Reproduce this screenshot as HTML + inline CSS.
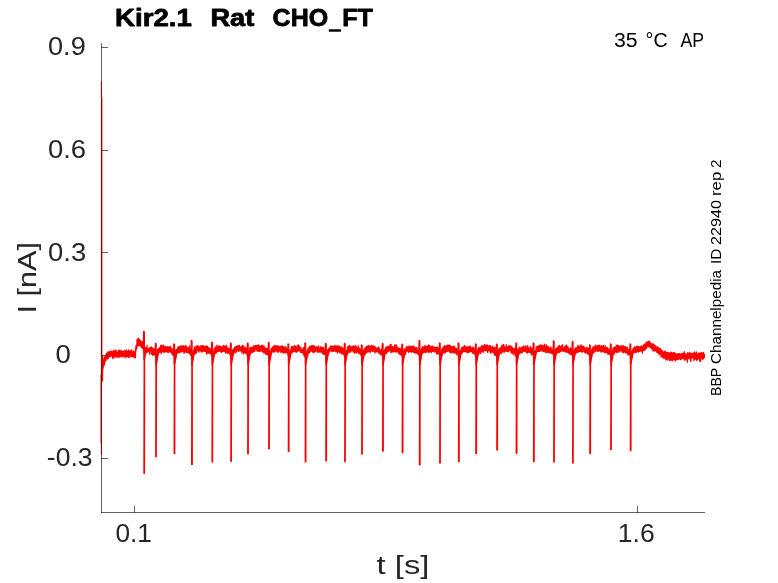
<!DOCTYPE html>
<html><head><meta charset="utf-8"><style>
html,body{margin:0;padding:0;background:#fff;overflow:hidden}
svg{display:block;will-change:transform}
text{font-family:"Liberation Sans",sans-serif}
</style></head><body>
<svg width="778" height="583" viewBox="0 0 778 583">
<rect width="778" height="583" fill="#fff"/>
<g fill="none" stroke="#ff0000" stroke-linejoin="round">
<path d="M101.45,81.6L101.45,454.6" stroke-width="1.2"/>
<path d="M102.5,97.5L102.5,355" stroke-width="1" stroke-opacity="0.35"/><path d="M102.5,355L102.5,381.5" stroke-width="1.3"/><path d="M100.5,374.4L100.5,443.4" stroke-width="1" stroke-opacity="0.45"/>
<path d="M102.6,370.0 102.7,363.7 102.8,368.1 102.9,364.0 103.0,364.3 103.1,368.1 103.2,366.2 103.3,364.7 103.4,360.6 103.5,363.9 103.6,360.2 103.7,364.5 103.8,358.2 103.9,359.3 104.0,363.9 104.1,358.3 104.2,365.1 104.3,356.8 104.4,357.8 104.5,364.6 104.6,360.0 104.7,358.1 104.8,356.8 104.9,360.6 105.0,359.5 105.1,361.4 105.2,356.7 105.3,358.6 105.4,357.7 105.5,357.9 105.6,360.9 105.7,355.9 105.8,356.5 105.9,360.3 106.0,359.0 106.1,357.4 106.2,356.5 106.3,353.4 106.4,357.2 106.5,356.5 106.6,356.5 106.7,356.6 106.8,355.8 106.9,358.1 107.0,353.1 107.1,358.8 107.2,357.5 107.3,355.1 107.4,357.3 107.5,356.4 107.6,357.1 107.7,357.3 107.8,353.5 107.9,352.8 108.0,352.0 108.1,355.5 108.2,358.6 108.3,355.3 108.4,354.3 108.5,357.4 108.6,356.7 108.7,357.9 108.8,351.6 108.9,353.0 109.0,356.0 109.1,352.0 109.2,355.6 109.3,354.4 109.4,352.3 109.5,356.0 109.6,352.6 109.7,355.2 109.8,356.4 109.9,356.2 110.0,354.5 110.1,355.2 110.2,355.7 110.3,356.7 110.4,351.4 110.5,355.3 110.6,351.5 110.7,351.6 110.8,356.1 110.9,352.8 111.0,352.0 111.1,351.4 111.2,353.6 111.3,351.6 111.4,351.8 111.5,353.2 111.6,351.1 111.7,352.2 111.8,355.2 111.9,353.2 112.0,354.3 112.1,352.4 112.2,356.7 112.3,355.8 112.4,358.0 112.5,356.0 112.6,351.9 112.7,355.9 112.8,353.1 112.9,354.5 113.0,355.5 113.1,356.6 113.2,354.5 113.3,356.1 113.4,350.6 113.5,352.1 113.6,353.7 113.7,358.2 113.8,350.4 113.9,352.0 114.0,354.6 114.1,357.0 114.2,353.0 114.3,355.2 114.4,355.8 114.5,355.0 114.6,352.4 114.7,354.2 114.8,356.9 114.9,351.9 115.0,352.9 115.1,352.7 115.2,351.5 115.3,350.7 115.4,356.3 115.5,354.7 115.6,356.0 115.7,351.7 115.8,355.6 115.9,356.6 116.0,349.9 116.1,356.1 116.2,355.3 116.3,354.0 116.4,357.1 116.5,351.7 116.6,353.0 116.7,356.3 116.8,355.0 116.9,352.1 117.0,356.3 117.1,354.3 117.2,353.7 117.3,357.0 117.4,354.9 117.5,355.4 117.6,356.2 117.7,353.7 117.8,355.4 117.9,355.5 118.0,355.9 118.1,354.8 118.2,350.8 118.3,353.5 118.4,355.2 118.5,352.2 118.6,352.6 118.7,354.3 118.8,356.2 118.9,357.7 119.0,350.2 119.1,353.8 119.2,353.3 119.3,353.4 119.4,351.7 119.5,350.1 119.6,353.1 119.7,351.9 119.8,354.6 119.9,353.9 120.0,356.7 120.1,351.8 120.2,354.7 120.3,351.7 120.4,353.0 120.5,354.8 120.6,352.9 120.7,353.5 120.8,354.7 120.9,351.4 121.0,350.2 121.1,353.8 121.2,351.9 121.3,354.9 121.4,356.2 121.5,356.8 121.6,353.7 121.7,352.8 121.8,352.1 121.9,356.3 122.0,354.1 122.1,354.5 122.2,352.8 122.3,354.8 122.4,356.3 122.5,351.2 122.6,353.5 122.7,352.8 122.8,356.7 122.9,354.5 123.0,355.2 123.1,353.0 123.2,355.2 123.3,351.3 123.4,355.5 123.5,352.7 123.6,352.7 123.7,356.2 123.8,355.9 123.9,354.7 124.0,351.5 124.1,351.4 124.2,352.6 124.3,353.0 124.4,352.0 124.5,350.6 124.6,356.1 124.7,354.5 124.8,351.7 124.9,355.6 125.0,357.9 125.1,355.4 125.2,351.4 125.3,352.6 125.4,352.2 125.5,352.2 125.6,356.2 125.7,353.7 125.8,354.2 125.9,350.7 126.0,353.7 126.1,352.1 126.2,353.1 126.3,354.8 126.4,352.8 126.5,349.9 126.6,357.0 126.7,350.7 126.8,351.0 126.9,352.4 127.0,352.6 127.1,354.3 127.2,352.4 127.3,356.7 127.4,354.9 127.5,351.2 127.6,352.1 127.7,354.1 127.8,352.1 127.9,352.2 128.0,353.3 128.1,354.5 128.2,352.0 128.3,356.6 128.4,353.9 128.5,355.4 128.6,349.9 128.7,357.3 128.8,353.5 128.9,353.2 129.0,353.6 129.1,355.5 129.2,357.7 129.3,353.1 129.4,353.5 129.5,353.1 129.6,353.4 129.7,352.0 129.8,354.6 129.9,351.0 130.0,352.8 130.1,352.8 130.2,351.1 130.3,352.6 130.4,352.6 130.5,354.8 130.6,350.9 130.7,356.5 130.8,351.2 130.9,353.4 131.0,350.7 131.1,355.7 131.2,349.9 131.3,350.2 131.4,351.2 131.5,354.2 131.6,352.6 131.7,356.4 131.8,352.3 131.9,350.8 132.0,351.5 132.1,353.5 132.2,356.1 132.3,354.0 132.4,355.1 132.5,354.6 132.6,355.6 132.7,354.4 132.8,352.8 132.9,357.1 133.0,356.2 133.1,354.1 133.2,352.9 133.3,356.6 133.4,353.2 133.5,351.0 133.6,355.0 133.7,354.8 133.8,356.7 133.9,355.7 134.0,353.0 134.1,354.9 134.2,356.7 134.3,353.0 134.4,352.0 134.5,353.2 134.6,355.8 134.7,357.8 134.8,355.6 134.9,354.0 135.0,354.0 135.1,356.6 135.2,353.6 135.3,353.1 135.4,357.7 135.5,355.4 135.6,348.5 135.7,352.2 135.8,351.9 135.9,348.0 136.0,346.8 136.1,345.5 136.2,348.2 136.3,349.3 136.4,347.2 136.5,347.6 136.6,345.2 136.7,344.9 136.8,348.5 136.9,347.1 137.0,339.7 137.1,342.5 137.2,345.0 137.3,339.1 137.4,343.1 137.5,341.3 137.6,344.8 137.7,344.0 137.8,341.1 137.9,341.9 138.0,345.8 138.1,340.1 138.2,342.9 138.3,345.1 138.4,342.2 138.5,338.1 138.6,342.1 138.7,345.4 138.8,342.4 138.9,343.2 139.0,342.8 139.1,340.2 139.2,339.2 139.3,339.6 139.4,343.0 139.5,340.5 139.6,342.2 139.7,344.1 139.8,344.2 139.9,344.9 140.0,340.4 140.1,345.9 140.2,342.5 140.3,343.2 140.4,340.8 140.5,345.6 140.6,343.3 140.7,343.7 140.8,341.3 140.9,346.0 141.0,345.5 141.1,341.6 141.2,347.3 141.3,342.4 141.4,347.4 141.5,342.5 141.6,341.6 141.7,344.3 141.8,346.6 141.9,344.6 142.0,344.8 142.1,344.5 142.2,346.9 142.3,341.7 142.4,348.0 142.5,344.5 142.6,348.8 142.7,347.6 142.8,347.4 142.9,346.6 143.0,344.5 143.1,347.5 143.2,344.5 143.3,345.6 143.4,344.3 143.5,348.3 143.6,347.5 143.7,348.5 143.8,346.0 143.9,346.2 144.0,350.3 144.1,349.0 144.2,352.7 144.3,350.6 144.4,351.8 144.5,349.9 144.6,351.7 144.7,350.5 144.8,350.0 144.9,349.0 145.0,353.7 145.1,351.1 145.2,351.1 145.3,353.1 145.4,351.4 145.5,351.9 145.6,348.7 145.7,349.3 145.8,351.7 145.9,352.2 146.0,351.8 146.1,347.7 146.2,351.0 146.3,351.6 146.4,352.4 146.5,348.4 146.6,347.9 146.7,351.5 146.8,350.0 146.9,350.3 147.0,345.4 147.1,350.5 147.2,351.4 147.3,350.9 147.4,348.5 147.5,348.8 147.6,352.4 147.7,352.1 147.8,350.0 147.9,351.7 148.0,351.1 148.1,351.3 148.2,351.2 148.3,350.4 148.4,349.3 148.5,349.0 148.6,351.3 148.7,348.6 148.8,348.7 148.9,348.3 149.0,351.3 149.1,349.4 149.2,350.8 149.3,349.6 149.4,349.6 149.5,352.1 149.6,351.6 149.7,354.3 149.8,347.7 149.9,347.8 150.0,350.2 150.1,349.4 150.2,349.0 150.3,349.2 150.4,349.4 150.5,350.6 150.6,349.0 150.7,349.4 150.8,349.0 150.9,348.2 151.0,347.4 151.1,350.2 151.2,349.4 151.3,350.1 151.4,354.1 151.5,349.5 151.6,346.9 151.7,351.5 151.8,349.8 151.9,349.9 152.0,348.4 152.1,352.2 152.2,349.5 152.3,349.6 152.4,351.7 152.5,353.3 152.6,350.3 152.7,355.2 152.8,348.1 152.9,353.0 153.0,350.1 153.1,348.4 153.2,353.6 153.3,354.8 153.4,352.3 153.5,349.9 153.6,351.8 153.7,354.1 153.8,353.3 153.9,350.9 154.0,355.0 154.1,349.2 154.2,351.9 154.3,353.1 154.4,352.1 154.5,351.6 154.6,350.2 154.7,353.6 154.8,354.6 154.9,349.6 155.0,354.6 155.1,351.2 155.2,351.4 155.3,355.4 155.4,351.8 155.5,353.2 155.6,354.3 155.7,353.7 155.8,352.7 155.9,353.7 156.0,359.4 156.1,358.3 156.2,358.3 156.3,353.7 156.4,353.1 156.5,352.5 156.6,356.9 156.7,357.4 156.8,354.2 156.9,355.3 157.0,354.4 157.1,354.5 157.2,350.3 157.3,351.3 157.4,352.7 157.5,352.3 157.6,349.3 157.7,350.2 157.8,353.3 157.9,353.7 158.0,353.0 158.1,352.3 158.2,352.8 158.3,352.7 158.4,350.1 158.5,349.7 158.6,349.2 158.7,351.7 158.8,348.4 158.9,352.8 159.0,352.6 159.1,352.2 159.2,352.8 159.3,349.4 159.4,347.9 159.5,349.1 159.6,348.0 159.7,347.7 159.8,351.4 159.9,348.8 160.0,349.1 160.1,348.2 160.2,349.2 160.3,351.2 160.4,347.4 160.5,352.0 160.6,348.4 160.7,345.4 160.8,347.9 160.9,349.9 161.0,349.2 161.1,351.7 161.2,353.5 161.3,351.5 161.4,348.0 161.5,348.4 161.6,352.5 161.7,345.4 161.8,346.9 161.9,345.7 162.0,347.1 162.1,347.9 162.2,350.9 162.3,347.2 162.4,351.5 162.5,349.0 162.6,348.4 162.7,348.8 162.8,349.3 162.9,350.7 163.0,349.4 163.1,347.5 163.2,347.9 163.3,345.0 163.4,348.0 163.5,350.1 163.6,351.9 163.7,352.0 163.8,349.9 163.9,350.2 164.0,352.7 164.1,351.7 164.2,351.2 164.3,350.5 164.4,349.9 164.5,347.0 164.6,348.2 164.7,346.6 164.8,346.3 164.9,349.4 165.0,351.2 165.1,348.8 165.2,347.7 165.3,347.7 165.4,350.8 165.5,346.3 165.6,351.2 165.7,349.0 165.8,351.9 165.9,352.0 166.0,348.8 166.1,349.3 166.2,346.9 166.3,348.5 166.4,348.6 166.5,351.4 166.6,350.7 166.7,351.1 166.8,351.6 166.9,350.3 167.0,349.5 167.1,350.9 167.2,351.3 167.3,350.8 167.4,346.6 167.5,347.3 167.6,348.4 167.7,352.3 167.8,351.3 167.9,348.5 168.0,350.0 168.1,347.7 168.2,348.4 168.3,352.4 168.4,350.4 168.5,349.5 168.6,346.8 168.7,349.1 168.8,349.7 168.9,349.4 169.0,347.3 169.1,352.0 169.2,348.4 169.3,349.2 169.4,351.2 169.5,348.6 169.6,350.0 169.7,347.8 169.8,348.9 169.9,347.9 170.0,346.6 170.1,350.0 170.2,348.6 170.3,347.6 170.4,346.4 170.5,351.4 170.6,349.1 170.7,352.1 170.8,351.9 170.9,352.5 171.0,350.7 171.1,348.6 171.2,351.2 171.3,349.6 171.4,350.8 171.5,353.0 171.6,352.9 171.7,350.9 171.8,348.1 171.9,353.0 172.0,352.3 172.1,350.9 172.2,350.1 172.3,351.0 172.4,354.9 172.5,352.4 172.6,353.7 172.7,351.3 172.8,350.4 172.9,353.1 173.0,350.3 173.1,354.3 173.2,353.4 173.3,351.7 173.4,353.0 173.5,351.1 173.6,353.0 173.7,354.8 173.8,355.6 173.9,354.0 174.0,349.8 174.1,354.5 174.2,350.5 174.3,354.2 174.4,354.6 174.5,359.5 174.6,356.2 174.7,354.6 174.8,356.2 174.9,356.0 175.0,357.7 175.1,354.3 175.2,355.1 175.3,352.6 175.4,350.2 175.5,350.3 175.6,357.2 175.7,354.1 175.8,352.3 175.9,350.9 176.0,355.4 176.1,352.3 176.2,350.0 176.3,349.3 176.4,349.8 176.5,350.4 176.6,351.6 176.7,351.5 176.8,352.3 176.9,353.5 177.0,351.1 177.1,351.2 177.2,352.8 177.3,349.2 177.4,351.0 177.5,350.5 177.6,350.8 177.7,347.6 177.8,348.7 177.9,348.8 178.0,351.1 178.1,347.7 178.2,348.9 178.3,349.7 178.4,352.8 178.5,347.8 178.6,349.2 178.7,346.7 178.8,349.2 178.9,347.5 179.0,349.5 179.1,347.6 179.2,347.1 179.3,349.8 179.4,350.3 179.5,352.5 179.6,350.8 179.7,349.7 179.8,346.6 179.9,348.8 180.0,350.5 180.1,349.4 180.2,346.4 180.3,347.1 180.4,349.0 180.5,351.8 180.6,346.5 180.7,349.9 180.8,348.8 180.9,346.5 181.0,351.2 181.1,351.5 181.2,352.2 181.3,350.2 181.4,348.1 181.5,347.7 181.6,345.9 181.7,350.7 181.8,350.2 181.9,346.7 182.0,350.8 182.1,348.1 182.2,351.1 182.3,346.6 182.4,349.2 182.5,348.4 182.6,347.6 182.7,346.2 182.8,348.4 182.9,349.0 183.0,351.0 183.1,350.1 183.2,345.7 183.3,350.1 183.4,350.7 183.5,351.2 183.6,351.6 183.7,348.3 183.8,351.1 183.9,353.2 184.0,346.4 184.1,348.4 184.2,347.7 184.3,350.3 184.4,350.2 184.5,352.9 184.6,349.4 184.7,348.2 184.8,346.4 184.9,349.4 185.0,348.6 185.1,347.1 185.2,347.3 185.3,350.5 185.4,350.1 185.5,348.6 185.6,350.5 185.7,351.5 185.8,345.1 185.9,352.0 186.0,346.7 186.1,350.6 186.2,348.2 186.3,349.8 186.4,348.4 186.5,347.6 186.6,350.1 186.7,352.4 186.8,346.8 186.9,350.5 187.0,347.6 187.1,350.3 187.2,348.4 187.3,352.5 187.4,349.7 187.5,348.5 187.6,349.9 187.7,348.3 187.8,351.4 187.9,349.2 188.0,351.2 188.1,350.1 188.2,347.8 188.3,350.4 188.4,352.4 188.5,347.8 188.6,350.8 188.7,347.7 188.8,350.1 188.9,353.2 189.0,349.0 189.1,353.4 189.2,350.6 189.3,351.8 189.4,346.0 189.5,350.7 189.6,349.6 189.7,350.0 189.8,350.8 189.9,349.6 190.0,351.9 190.1,349.6 190.2,354.6 190.3,349.1 190.4,348.8 190.5,352.9 190.6,350.7 190.7,352.0 190.8,355.3 190.9,350.8 191.0,355.0 191.1,350.7 191.2,353.0 191.3,349.9 191.4,353.1 191.5,354.6 191.6,354.8 191.7,353.8 191.8,355.4 191.9,355.0 192.0,357.9 192.1,358.4 192.2,358.4 192.3,356.5 192.4,357.0 192.5,353.9 192.6,356.1 192.7,353.1 192.8,352.9 192.9,352.4 193.0,352.9 193.1,355.0 193.2,350.7 193.3,354.3 193.4,351.9 193.5,354.8 193.6,350.9 193.7,351.5 193.8,353.8 193.9,351.7 194.0,354.0 194.1,348.5 194.2,350.9 194.3,350.8 194.4,352.2 194.5,350.9 194.6,347.7 194.7,347.7 194.8,350.8 194.9,353.6 195.0,346.7 195.1,352.4 195.2,349.7 195.3,347.8 195.4,349.4 195.5,349.6 195.6,351.9 195.7,351.1 195.8,351.5 195.9,347.9 196.0,353.6 196.1,347.0 196.2,348.5 196.3,348.9 196.4,351.1 196.5,352.4 196.6,349.1 196.7,349.3 196.8,348.1 196.9,348.3 197.0,349.1 197.1,346.9 197.2,345.4 197.3,348.8 197.4,349.3 197.5,347.8 197.6,348.6 197.7,350.4 197.8,349.4 197.9,347.0 198.0,348.4 198.1,350.2 198.2,348.3 198.3,350.2 198.4,350.8 198.5,349.2 198.6,347.9 198.7,346.2 198.8,350.7 198.9,352.2 199.0,348.9 199.1,350.0 199.2,346.3 199.3,350.3 199.4,350.6 199.5,349.9 199.6,350.4 199.7,348.9 199.8,349.3 199.9,350.6 200.0,349.1 200.1,349.4 200.2,348.9 200.3,347.9 200.4,348.2 200.5,350.4 200.6,349.2 200.7,346.0 200.8,349.6 200.9,346.3 201.0,347.7 201.1,346.9 201.2,351.4 201.3,347.3 201.4,350.4 201.5,346.4 201.6,350.9 201.7,351.0 201.8,352.0 201.9,345.5 202.0,348.0 202.1,348.4 202.2,347.4 202.3,351.8 202.4,349.5 202.5,349.0 202.6,347.1 202.7,349.7 202.8,346.6 202.9,346.1 203.0,345.9 203.1,349.3 203.2,349.1 203.3,348.1 203.4,348.8 203.5,346.2 203.6,347.4 203.7,345.8 203.8,351.4 203.9,350.5 204.0,350.2 204.1,351.3 204.2,348.3 204.3,349.3 204.4,351.7 204.5,350.7 204.6,347.2 204.7,347.8 204.8,351.5 204.9,346.4 205.0,351.2 205.1,351.1 205.2,347.8 205.3,347.2 205.4,346.6 205.5,348.5 205.6,349.4 205.7,351.0 205.8,347.2 205.9,349.4 206.0,350.0 206.1,346.1 206.2,346.6 206.3,346.9 206.4,354.0 206.5,348.7 206.6,348.1 206.7,349.9 206.8,346.0 206.9,348.7 207.0,349.2 207.1,352.4 207.2,350.3 207.3,348.4 207.4,349.3 207.5,346.6 207.6,348.1 207.7,348.9 207.8,353.3 207.9,349.0 208.0,352.0 208.1,352.1 208.2,347.8 208.3,352.8 208.4,352.8 208.5,351.5 208.6,348.2 208.7,348.1 208.8,348.1 208.9,351.2 209.0,349.5 209.1,347.7 209.2,349.4 209.3,353.2 209.4,351.7 209.5,349.0 209.6,348.8 209.7,351.8 209.8,352.9 209.9,348.7 210.0,351.4 210.1,351.1 210.2,353.1 210.3,353.5 210.4,353.7 210.5,353.9 210.6,348.8 210.7,350.8 210.8,352.0 210.9,351.4 211.0,350.0 211.1,349.3 211.2,350.4 211.3,350.4 211.4,350.4 211.5,350.5 211.6,355.4 211.7,354.9 211.8,350.5 211.9,355.6 212.0,350.2 212.1,352.8 212.2,352.5 212.3,359.4 212.4,354.4 212.5,353.8 212.6,355.8 212.7,354.4 212.8,352.8 212.9,356.6 213.0,355.7 213.1,356.4 213.2,353.5 213.3,352.9 213.4,353.6 213.5,356.4 213.6,350.8 213.7,354.3 213.8,352.7 213.9,350.8 214.0,354.0 214.1,355.1 214.2,351.7 214.3,348.4 214.4,353.1 214.5,351.3 214.6,348.3 214.7,352.6 214.8,349.0 214.9,349.0 215.0,353.4 215.1,351.5 215.2,347.3 215.3,346.9 215.4,352.1 215.5,347.6 215.6,352.9 215.7,348.6 215.8,350.5 215.9,350.2 216.0,351.1 216.1,353.3 216.2,348.0 216.3,352.6 216.4,346.8 216.5,348.2 216.6,348.1 216.7,346.8 216.8,351.9 216.9,345.2 217.0,350.8 217.1,348.3 217.2,347.6 217.3,350.9 217.4,347.7 217.5,346.6 217.6,347.0 217.7,346.7 217.8,347.5 217.9,347.6 218.0,348.9 218.1,351.7 218.2,349.9 218.3,346.3 218.4,347.0 218.5,346.4 218.6,348.8 218.7,347.6 218.8,351.4 218.9,348.4 219.0,346.1 219.1,347.2 219.2,345.9 219.3,348.4 219.4,348.0 219.5,348.7 219.6,348.1 219.7,349.5 219.8,349.1 219.9,350.3 220.0,346.1 220.1,346.4 220.2,351.3 220.3,347.8 220.4,351.8 220.5,349.9 220.6,346.7 220.7,349.1 220.8,347.7 220.9,349.9 221.0,346.7 221.1,349.0 221.2,348.4 221.3,350.7 221.4,347.2 221.5,348.4 221.6,352.4 221.7,349.2 221.8,348.1 221.9,349.5 222.0,349.0 222.1,347.9 222.2,349.7 222.3,349.6 222.4,349.2 222.5,347.5 222.6,350.6 222.7,351.3 222.8,351.0 222.9,345.8 223.0,347.9 223.1,350.0 223.2,345.4 223.3,347.9 223.4,347.3 223.5,348.7 223.6,348.1 223.7,348.9 223.8,351.3 223.9,350.8 224.0,348.6 224.1,349.6 224.2,346.9 224.3,346.3 224.4,345.8 224.5,348.0 224.6,351.4 224.7,347.6 224.8,347.6 224.9,350.0 225.0,347.4 225.1,347.7 225.2,349.9 225.3,349.8 225.4,353.1 225.5,346.4 225.6,352.5 225.7,350.1 225.8,350.2 225.9,347.9 226.0,350.1 226.1,350.8 226.2,348.6 226.3,350.8 226.4,352.2 226.5,345.2 226.6,350.3 226.7,350.0 226.8,346.7 226.9,348.7 227.0,351.7 227.1,351.6 227.2,350.9 227.3,348.1 227.4,353.4 227.5,348.4 227.6,351.4 227.7,350.4 227.8,352.9 227.9,351.4 228.0,349.4 228.1,349.2 228.2,348.2 228.3,349.9 228.4,351.1 228.5,352.7 228.6,350.9 228.7,349.9 228.8,348.3 228.9,352.6 229.0,350.2 229.1,350.0 229.2,350.9 229.3,350.5 229.4,354.1 229.5,351.1 229.6,352.9 229.7,349.7 229.8,352.7 229.9,349.9 230.0,350.0 230.1,354.5 230.2,354.8 230.3,352.4 230.4,349.5 230.5,356.0 230.6,353.8 230.7,351.9 230.8,350.6 230.9,352.1 231.0,354.7 231.1,357.2 231.2,355.2 231.3,355.5 231.4,353.7 231.5,358.3 231.6,353.5 231.7,354.7 231.8,356.6 231.9,354.1 232.0,350.5 232.1,352.2 232.2,353.4 232.3,354.4 232.4,350.3 232.5,350.1 232.6,355.0 232.7,350.8 232.8,354.7 232.9,352.2 233.0,354.6 233.1,354.0 233.2,352.9 233.3,351.4 233.4,352.8 233.5,349.3 233.6,349.9 233.7,354.0 233.8,348.3 233.9,351.6 234.0,352.1 234.1,351.6 234.2,350.1 234.3,348.5 234.4,349.5 234.5,352.0 234.6,352.2 234.7,347.7 234.8,350.0 234.9,347.3 235.0,348.8 235.1,347.7 235.2,350.3 235.3,348.5 235.4,347.8 235.5,347.7 235.6,346.8 235.7,349.0 235.8,352.4 235.9,349.1 236.0,347.2 236.1,351.3 236.2,350.9 236.3,346.2 236.4,348.4 236.5,350.4 236.6,351.0 236.7,351.2 236.8,348.7 236.9,349.1 237.0,347.4 237.1,348.0 237.2,349.5 237.3,348.8 237.4,347.9 237.5,347.9 237.6,346.0 237.7,348.5 237.8,346.9 237.9,346.2 238.0,348.4 238.1,347.5 238.2,347.7 238.3,351.2 238.4,349.1 238.5,346.3 238.6,345.8 238.7,348.6 238.8,351.4 238.9,347.6 239.0,348.7 239.1,350.4 239.2,348.5 239.3,346.6 239.4,345.5 239.5,349.1 239.6,349.7 239.7,349.0 239.8,348.6 239.9,349.8 240.0,348.3 240.1,348.0 240.2,350.0 240.3,348.7 240.4,347.8 240.5,348.0 240.6,348.7 240.7,347.4 240.8,350.0 240.9,346.6 241.0,351.1 241.1,348.5 241.2,349.9 241.3,347.9 241.4,347.6 241.5,347.4 241.6,348.2 241.7,350.5 241.8,348.7 241.9,353.0 242.0,345.9 242.1,352.2 242.2,347.6 242.3,345.5 242.4,346.5 242.5,346.5 242.6,349.2 242.7,347.9 242.8,346.1 242.9,350.2 243.0,347.9 243.1,349.5 243.2,351.4 243.3,348.1 243.4,350.5 243.5,354.0 243.6,348.4 243.7,353.4 243.8,346.0 243.9,350.1 244.0,351.0 244.1,350.3 244.2,350.8 244.3,350.9 244.4,349.5 244.5,351.4 244.6,352.4 244.7,351.2 244.8,348.6 244.9,352.0 245.0,349.3 245.1,347.9 245.2,350.9 245.3,352.4 245.4,348.5 245.5,352.2 245.6,347.6 245.7,349.2 245.8,347.7 245.9,347.5 246.0,353.7 246.1,348.6 246.2,349.0 246.3,353.1 246.4,352.5 246.5,350.1 246.6,349.0 246.7,353.8 246.8,350.6 246.9,354.5 247.0,350.0 247.1,349.6 247.2,350.6 247.3,355.4 247.4,354.4 247.5,349.6 247.6,354.6 247.7,353.5 247.8,351.9 247.9,352.6 248.0,359.2 248.1,355.3 248.2,353.9 248.3,356.2 248.4,357.4 248.5,356.6 248.6,353.9 248.7,351.5 248.8,352.7 248.9,353.7 249.0,354.9 249.1,352.1 249.2,350.5 249.3,355.8 249.4,350.7 249.5,350.7 249.6,353.6 249.7,347.9 249.8,348.4 249.9,351.2 250.0,352.6 250.1,350.7 250.2,350.1 250.3,353.7 250.4,351.7 250.5,349.2 250.6,353.5 250.7,351.7 250.8,351.5 250.9,349.0 251.0,347.2 251.1,350.9 251.2,350.1 251.3,347.8 251.4,348.8 251.5,349.2 251.6,352.3 251.7,348.9 251.8,351.6 251.9,348.1 252.0,349.5 252.1,352.5 252.2,347.4 252.3,351.1 252.4,347.8 252.5,347.7 252.6,351.1 252.7,350.4 252.8,352.3 252.9,348.2 253.0,350.0 253.1,348.1 253.2,350.5 253.3,350.5 253.4,351.1 253.5,345.8 253.6,351.2 253.7,347.2 253.8,351.6 253.9,350.2 254.0,351.4 254.1,350.1 254.2,350.5 254.3,345.8 254.4,347.0 254.5,348.7 254.6,350.4 254.7,350.7 254.8,346.7 254.9,351.2 255.0,350.3 255.1,347.8 255.2,349.8 255.3,345.7 255.4,346.7 255.5,346.9 255.6,345.4 255.7,345.9 255.8,349.3 255.9,346.5 256.0,348.6 256.1,348.4 256.2,347.9 256.3,349.4 256.4,348.0 256.5,348.1 256.6,349.0 256.7,345.5 256.8,347.9 256.9,351.1 257.0,348.5 257.1,347.8 257.2,350.1 257.3,345.6 257.4,345.6 257.5,349.9 257.6,347.7 257.7,349.9 257.8,348.7 257.9,346.5 258.0,346.5 258.1,351.1 258.2,347.9 258.3,345.0 258.4,345.9 258.5,344.9 258.6,346.7 258.7,345.6 258.8,351.0 258.9,346.4 259.0,351.4 259.1,346.6 259.2,350.1 259.3,346.8 259.4,350.0 259.5,350.2 259.6,348.8 259.7,346.0 259.8,350.7 259.9,351.1 260.0,348.2 260.1,348.1 260.2,348.9 260.3,351.2 260.4,348.0 260.5,345.8 260.6,348.3 260.7,348.6 260.8,347.6 260.9,348.4 261.0,350.4 261.1,348.1 261.2,349.2 261.3,350.7 261.4,346.0 261.5,350.9 261.6,345.6 261.7,347.6 261.8,346.5 261.9,350.3 262.0,347.5 262.1,348.8 262.2,349.7 262.3,345.2 262.4,348.3 262.5,347.8 262.6,351.2 262.7,350.6 262.8,348.2 262.9,352.0 263.0,347.1 263.1,346.0 263.2,350.5 263.3,350.1 263.4,348.1 263.5,349.2 263.6,351.3 263.7,346.6 263.8,349.7 263.9,349.0 264.0,353.1 264.1,347.7 264.2,346.2 264.3,352.6 264.4,349.8 264.5,350.3 264.6,348.4 264.7,350.0 264.8,351.0 264.9,348.6 265.0,350.6 265.1,352.5 265.2,348.8 265.3,351.3 265.4,352.1 265.5,349.2 265.6,354.2 265.7,347.9 265.8,353.3 265.9,350.4 266.0,349.7 266.1,353.3 266.2,348.2 266.3,354.2 266.4,351.6 266.5,351.5 266.6,353.3 266.7,352.6 266.8,350.6 266.9,354.2 267.0,350.6 267.1,354.6 267.2,353.2 267.3,348.7 267.4,352.8 267.5,353.2 267.6,352.3 267.7,349.9 267.8,354.7 267.9,354.8 268.0,354.5 268.1,352.0 268.2,352.9 268.3,351.1 268.4,354.1 268.5,350.6 268.6,349.9 268.7,355.2 268.8,353.6 268.9,354.6 269.0,355.2 269.1,354.1 269.2,355.7 269.3,357.7 269.4,352.5 269.5,354.1 269.6,355.2 269.7,355.6 269.8,355.2 269.9,353.7 270.0,352.5 270.1,350.9 270.2,355.4 270.3,354.0 270.4,353.1 270.5,354.8 270.6,354.6 270.7,351.1 270.8,351.0 270.9,351.9 271.0,351.0 271.1,351.3 271.2,350.2 271.3,348.6 271.4,348.8 271.5,349.9 271.6,352.2 271.7,352.1 271.8,352.4 271.9,351.3 272.0,349.1 272.1,349.3 272.2,347.3 272.3,347.4 272.4,348.5 272.5,349.6 272.6,351.9 272.7,348.6 272.8,349.3 272.9,347.0 273.0,351.6 273.1,348.9 273.2,346.7 273.3,349.4 273.4,351.8 273.5,348.9 273.6,348.0 273.7,350.0 273.8,347.0 273.9,347.5 274.0,351.5 274.1,351.0 274.2,348.9 274.3,346.8 274.4,347.9 274.5,352.0 274.6,351.9 274.7,345.5 274.8,348.8 274.9,350.4 275.0,351.0 275.1,349.9 275.2,348.5 275.3,350.9 275.4,348.1 275.5,346.8 275.6,351.0 275.7,349.3 275.8,345.8 275.9,350.6 276.0,346.5 276.1,350.6 276.2,350.1 276.3,345.7 276.4,348.9 276.5,345.9 276.6,350.2 276.7,350.2 276.8,351.2 276.9,348.4 277.0,346.3 277.1,351.2 277.2,349.3 277.3,346.5 277.4,345.9 277.5,348.8 277.6,351.9 277.7,349.6 277.8,352.0 277.9,346.6 278.0,348.5 278.1,352.1 278.2,349.5 278.3,352.2 278.4,349.4 278.5,350.4 278.6,346.1 278.7,346.1 278.8,351.8 278.9,349.7 279.0,350.2 279.1,347.6 279.2,350.4 279.3,349.3 279.4,349.6 279.5,347.9 279.6,346.7 279.7,348.6 279.8,348.8 279.9,346.6 280.0,346.6 280.1,349.7 280.2,346.7 280.3,346.4 280.4,350.9 280.5,349.4 280.6,346.8 280.7,350.4 280.8,347.6 280.9,352.7 281.0,349.6 281.1,347.4 281.2,349.6 281.3,351.7 281.4,346.4 281.5,348.0 281.6,348.3 281.7,346.0 281.8,346.1 281.9,348.4 282.0,349.0 282.1,350.3 282.2,345.8 282.3,351.4 282.4,351.8 282.5,350.1 282.6,346.8 282.7,349.4 282.8,351.0 282.9,351.4 283.0,352.6 283.1,347.7 283.2,347.3 283.3,346.7 283.4,351.4 283.5,348.7 283.6,349.8 283.7,353.0 283.8,348.2 283.9,351.2 284.0,347.3 284.1,351.9 284.2,349.3 284.3,348.1 284.4,347.6 284.5,351.5 284.6,349.2 284.7,347.5 284.8,352.0 284.9,352.3 285.0,349.5 285.1,352.8 285.2,348.0 285.3,346.7 285.4,351.7 285.5,351.3 285.6,348.5 285.7,350.4 285.8,349.3 285.9,350.0 286.0,348.9 286.1,349.7 286.2,352.4 286.3,351.4 286.4,348.7 286.5,347.9 286.6,351.9 286.7,349.2 286.8,350.5 286.9,351.0 287.0,352.8 287.1,350.7 287.2,353.4 287.3,350.7 287.4,349.2 287.5,351.4 287.6,351.6 287.7,351.5 287.8,350.7 287.9,351.4 288.0,354.2 288.1,350.7 288.2,355.5 288.3,349.4 288.4,352.5 288.5,355.3 288.6,355.6 288.7,353.3 288.8,355.9 288.9,355.2 289.0,356.1 289.1,353.5 289.2,357.3 289.3,350.6 289.4,353.0 289.5,354.6 289.6,353.6 289.7,354.2 289.8,355.5 289.9,353.0 290.0,352.0 290.1,351.9 290.2,354.0 290.3,356.2 290.4,351.7 290.5,354.4 290.6,349.7 290.7,351.9 290.8,351.9 290.9,349.6 291.0,353.4 291.1,353.3 291.2,348.8 291.3,347.8 291.4,353.0 291.5,352.6 291.6,346.4 291.7,350.9 291.8,351.0 291.9,352.2 292.0,349.0 292.1,347.9 292.2,351.4 292.3,347.2 292.4,352.3 292.5,347.0 292.6,352.1 292.7,346.6 292.8,350.3 292.9,347.5 293.0,347.2 293.1,352.1 293.2,348.7 293.3,347.4 293.4,348.2 293.5,349.7 293.6,351.4 293.7,347.3 293.8,346.8 293.9,348.3 294.0,349.7 294.1,346.1 294.2,349.8 294.3,349.5 294.4,349.1 294.5,348.1 294.6,348.3 294.7,345.3 294.8,346.0 294.9,350.1 295.0,351.6 295.1,350.5 295.2,346.3 295.3,348.0 295.4,349.5 295.5,348.2 295.6,348.5 295.7,349.7 295.8,348.1 295.9,352.0 296.0,348.1 296.1,346.9 296.2,348.4 296.3,349.1 296.4,347.8 296.5,352.2 296.6,348.6 296.7,352.0 296.8,349.4 296.9,351.4 297.0,349.9 297.1,351.2 297.2,351.8 297.3,345.4 297.4,347.9 297.5,349.5 297.6,349.5 297.7,349.9 297.8,347.4 297.9,346.6 298.0,347.5 298.1,350.1 298.2,349.9 298.3,346.6 298.4,348.8 298.5,345.0 298.6,349.7 298.7,350.9 298.8,350.5 298.9,346.8 299.0,347.9 299.1,346.5 299.2,348.4 299.3,350.8 299.4,348.2 299.5,348.5 299.6,349.2 299.7,350.9 299.8,350.4 299.9,347.0 300.0,350.1 300.1,347.2 300.2,349.2 300.3,347.3 300.4,349.4 300.5,352.3 300.6,351.9 300.7,348.4 300.8,347.4 300.9,348.4 301.0,348.2 301.1,349.0 301.2,352.3 301.3,349.8 301.4,351.3 301.5,350.6 301.6,351.5 301.7,352.3 301.8,352.1 301.9,351.6 302.0,352.7 302.1,351.9 302.2,352.1 302.3,351.2 302.4,350.9 302.5,350.9 302.6,349.4 302.7,349.3 302.8,351.8 302.9,348.9 303.0,351.6 303.1,351.5 303.2,351.8 303.3,353.3 303.4,354.1 303.5,349.8 303.6,347.6 303.7,352.2 303.8,353.7 303.9,349.6 304.0,348.2 304.1,356.0 304.2,354.2 304.3,348.5 304.4,352.7 304.5,352.4 304.6,352.7 304.7,353.4 304.8,355.4 304.9,353.2 305.0,356.0 305.1,354.3 305.2,351.5 305.3,351.7 305.4,358.8 305.5,357.9 305.6,354.1 305.7,357.6 305.8,353.1 305.9,357.4 306.0,358.7 306.1,353.9 306.2,355.5 306.3,356.0 306.4,353.2 306.5,356.7 306.6,355.3 306.7,354.6 306.8,354.2 306.9,350.8 307.0,352.6 307.1,352.6 307.2,351.4 307.3,354.0 307.4,353.3 307.5,349.8 307.6,352.2 307.7,352.8 307.8,351.0 307.9,349.0 308.0,354.7 308.1,349.3 308.2,350.1 308.3,349.4 308.4,352.7 308.5,348.1 308.6,348.5 308.7,351.6 308.8,348.7 308.9,349.8 309.0,350.5 309.1,347.3 309.2,347.7 309.3,347.9 309.4,346.7 309.5,350.0 309.6,348.8 309.7,352.7 309.8,349.4 309.9,347.6 310.0,350.3 310.1,351.7 310.2,350.8 310.3,346.4 310.4,346.4 310.5,346.8 310.6,347.9 310.7,347.3 310.8,349.7 310.9,349.0 311.0,348.6 311.1,346.5 311.2,345.8 311.3,350.6 311.4,350.1 311.5,350.0 311.6,348.5 311.7,348.8 311.8,350.4 311.9,351.7 312.0,346.6 312.1,345.5 312.2,349.5 312.3,350.4 312.4,348.5 312.5,349.1 312.6,349.8 312.7,352.0 312.8,349.2 312.9,346.3 313.0,349.6 313.1,345.6 313.2,346.6 313.3,349.9 313.4,352.6 313.5,349.7 313.6,349.0 313.7,348.3 313.8,346.5 313.9,347.8 314.0,351.0 314.1,351.5 314.2,348.7 314.3,349.8 314.4,347.2 314.5,345.9 314.6,350.9 314.7,349.0 314.8,352.2 314.9,348.2 315.0,349.3 315.1,349.8 315.2,348.4 315.3,347.6 315.4,349.5 315.5,348.5 315.6,349.6 315.7,350.1 315.8,349.0 315.9,351.1 316.0,346.8 316.1,350.2 316.2,348.3 316.3,350.9 316.4,350.4 316.5,349.3 316.6,347.2 316.7,346.8 316.8,348.4 316.9,350.1 317.0,348.2 317.1,348.8 317.2,348.6 317.3,352.2 317.4,349.2 317.5,350.0 317.6,347.1 317.7,350.9 317.8,351.7 317.9,349.7 318.0,351.1 318.1,351.3 318.2,346.1 318.3,349.4 318.4,346.3 318.5,347.3 318.6,346.1 318.7,351.4 318.8,347.0 318.9,352.3 319.0,350.0 319.1,347.7 319.2,348.0 319.3,349.3 319.4,351.4 319.5,351.8 319.6,349.7 319.7,350.7 319.8,349.1 319.9,350.2 320.0,348.8 320.1,348.8 320.2,350.7 320.3,352.0 320.4,351.4 320.5,351.9 320.6,349.9 320.7,346.6 320.8,351.3 320.9,348.9 321.0,350.7 321.1,351.7 321.2,352.0 321.3,348.8 321.4,350.3 321.5,351.5 321.6,350.4 321.7,347.6 321.8,348.2 321.9,348.7 322.0,350.6 322.1,349.2 322.2,353.0 322.3,350.2 322.4,350.4 322.5,351.1 322.6,350.6 322.7,347.4 322.8,353.3 322.9,349.7 323.0,348.4 323.1,352.3 323.2,350.7 323.3,351.9 323.4,352.7 323.5,352.7 323.6,347.3 323.7,354.6 323.8,353.1 323.9,352.2 324.0,348.3 324.1,353.5 324.2,351.5 324.3,350.2 324.4,351.5 324.5,352.3 324.6,354.2 324.7,352.3 324.8,351.0 324.9,350.7 325.0,354.2 325.1,354.4 325.2,351.9 325.3,353.4 325.4,350.9 325.5,352.1 325.6,352.2 325.7,355.3 325.8,353.6 325.9,351.7 326.0,359.2 326.1,355.7 326.2,354.7 326.3,356.2 326.4,358.5 326.5,356.0 326.6,355.4 326.7,355.7 326.8,354.5 326.9,357.0 327.0,354.4 327.1,352.6 327.2,351.6 327.3,354.3 327.4,354.0 327.5,353.3 327.6,354.8 327.7,352.1 327.8,349.4 327.9,354.2 328.0,352.3 328.1,353.9 328.2,353.2 328.3,352.1 328.4,351.5 328.5,349.6 328.6,350.0 328.7,352.9 328.8,353.0 328.9,348.1 329.0,349.6 329.1,348.1 329.2,350.7 329.3,348.1 329.4,348.7 329.5,351.7 329.6,347.8 329.7,350.9 329.8,351.3 329.9,350.0 330.0,351.0 330.1,348.2 330.2,349.4 330.3,349.2 330.4,348.3 330.5,348.4 330.6,346.1 330.7,347.8 330.8,349.2 330.9,348.2 331.0,347.4 331.1,349.3 331.2,350.2 331.3,346.2 331.4,350.5 331.5,348.2 331.6,351.1 331.7,346.2 331.8,349.5 331.9,347.4 332.0,349.2 332.1,348.5 332.2,349.3 332.3,351.6 332.4,347.8 332.5,346.2 332.6,347.0 332.7,348.3 332.8,348.1 332.9,347.7 333.0,350.4 333.1,348.8 333.2,347.2 333.3,351.5 333.4,347.1 333.5,348.6 333.6,349.5 333.7,350.5 333.8,348.3 333.9,350.2 334.0,349.4 334.1,346.2 334.2,350.5 334.3,348.7 334.4,347.7 334.5,346.9 334.6,349.8 334.7,345.3 334.8,350.8 334.9,347.3 335.0,345.6 335.1,349.9 335.2,350.3 335.3,346.8 335.4,351.2 335.5,348.2 335.6,351.6 335.7,349.6 335.8,348.5 335.9,350.6 336.0,351.2 336.1,351.5 336.2,347.2 336.3,347.0 336.4,345.8 336.5,348.1 336.6,350.1 336.7,349.4 336.8,348.2 336.9,350.8 337.0,346.6 337.1,347.5 337.2,346.3 337.3,350.2 337.4,353.0 337.5,346.7 337.6,351.9 337.7,349.1 337.8,352.4 337.9,349.6 338.0,346.0 338.1,347.8 338.2,350.0 338.3,347.0 338.4,351.8 338.5,348.9 338.6,351.4 338.7,347.9 338.8,348.1 338.9,348.4 339.0,346.7 339.1,346.2 339.2,348.5 339.3,347.2 339.4,347.1 339.5,346.3 339.6,346.5 339.7,350.3 339.8,351.5 339.9,352.9 340.0,352.7 340.1,351.7 340.2,350.7 340.3,348.4 340.4,351.3 340.5,350.8 340.6,347.1 340.7,351.8 340.8,351.3 340.9,351.0 341.0,350.7 341.1,351.3 341.2,348.4 341.3,353.4 341.4,353.0 341.5,350.0 341.6,353.8 341.7,350.5 341.8,346.8 341.9,352.8 342.0,349.9 342.1,348.4 342.2,350.9 342.3,352.9 342.4,353.2 342.5,351.9 342.6,350.9 342.7,350.1 342.8,348.3 342.9,352.3 343.0,353.7 343.1,348.2 343.2,348.1 343.3,350.2 343.4,354.5 343.5,350.0 343.6,351.8 343.7,352.1 343.8,353.4 343.9,349.6 344.0,353.5 344.1,354.3 344.2,353.2 344.3,355.4 344.4,353.6 344.5,353.6 344.6,350.4 344.7,352.0 344.8,351.4 344.9,354.7 345.0,355.6 345.1,357.0 345.2,357.7 345.3,352.7 345.4,355.3 345.5,351.8 345.6,351.1 345.7,351.7 345.8,356.0 345.9,354.2 346.0,353.4 346.1,352.0 346.2,351.6 346.3,354.6 346.4,353.4 346.5,352.2 346.6,350.7 346.7,350.6 346.8,352.9 346.9,352.8 347.0,352.2 347.1,354.6 347.2,348.6 347.3,353.3 347.4,350.1 347.5,349.5 347.6,350.5 347.7,346.7 347.8,349.0 347.9,351.6 348.0,352.6 348.1,350.8 348.2,351.4 348.3,351.9 348.4,348.5 348.5,349.1 348.6,350.6 348.7,346.6 348.8,349.7 348.9,352.5 349.0,348.1 349.1,350.0 349.2,350.8 349.3,352.3 349.4,347.8 349.5,345.4 349.6,350.2 349.7,348.0 349.8,348.4 349.9,351.8 350.0,350.7 350.1,348.0 350.2,348.5 350.3,346.3 350.4,350.2 350.5,346.6 350.6,352.1 350.7,348.2 350.8,350.0 350.9,349.2 351.0,349.3 351.1,349.7 351.2,350.4 351.3,347.7 351.4,349.4 351.5,348.3 351.6,350.8 351.7,349.4 351.8,350.1 351.9,348.9 352.0,346.1 352.1,348.8 352.2,346.9 352.3,347.2 352.4,347.9 352.5,347.0 352.6,347.2 352.7,349.7 352.8,347.0 352.9,350.9 353.0,348.9 353.1,346.1 353.2,352.1 353.3,347.3 353.4,348.6 353.5,345.8 353.6,350.0 353.7,348.1 353.8,347.6 353.9,350.2 354.0,348.2 354.1,350.4 354.2,350.5 354.3,351.2 354.4,350.0 354.5,353.0 354.6,346.8 354.7,346.5 354.8,349.2 354.9,350.5 355.0,352.8 355.1,348.3 355.2,348.9 355.3,349.7 355.4,345.6 355.5,346.9 355.6,346.4 355.7,351.4 355.8,345.8 355.9,350.8 356.0,346.5 356.1,350.3 356.2,349.1 356.3,348.2 356.4,352.8 356.5,352.1 356.6,351.5 356.7,352.9 356.8,350.8 356.9,348.0 357.0,349.0 357.1,348.8 357.2,351.1 357.3,349.2 357.4,351.5 357.5,350.1 357.6,348.1 357.7,347.5 357.8,347.6 357.9,349.9 358.0,347.2 358.1,350.3 358.2,352.0 358.3,345.9 358.4,349.3 358.5,349.8 358.6,352.9 358.7,347.6 358.8,349.2 358.9,353.4 359.0,351.0 359.1,351.2 359.2,351.9 359.3,349.0 359.4,349.2 359.5,348.7 359.6,352.8 359.7,352.2 359.8,350.3 359.9,353.8 360.0,350.7 360.1,353.3 360.2,354.2 360.3,350.4 360.4,350.9 360.5,353.9 360.6,349.3 360.7,352.0 360.8,354.9 360.9,353.6 361.0,354.1 361.1,354.8 361.2,355.8 361.3,354.7 361.4,350.1 361.5,351.9 361.6,354.4 361.7,354.0 361.8,349.1 361.9,353.7 362.0,359.1 362.1,354.9 362.2,359.8 362.3,353.9 362.4,358.0 362.5,356.3 362.6,354.2 362.7,353.8 362.8,353.7 362.9,355.1 363.0,352.1 363.1,350.9 363.2,353.6 363.3,351.6 363.4,355.0 363.5,350.7 363.6,354.2 363.7,356.3 363.8,353.7 363.9,353.6 364.0,350.6 364.1,349.9 364.2,350.4 364.3,348.6 364.4,351.1 364.5,349.5 364.6,352.6 364.7,348.8 364.8,354.1 364.9,350.1 365.0,354.2 365.1,351.1 365.2,350.1 365.3,347.9 365.4,354.1 365.5,352.7 365.6,349.3 365.7,353.5 365.8,348.4 365.9,349.6 366.0,348.0 366.1,348.7 366.2,348.7 366.3,346.4 366.4,349.5 366.5,349.2 366.6,352.0 366.7,350.0 366.8,351.3 366.9,346.8 367.0,352.4 367.1,348.8 367.2,350.5 367.3,348.5 367.4,351.4 367.5,348.9 367.6,346.2 367.7,350.4 367.8,350.8 367.9,347.5 368.0,347.9 368.1,349.9 368.2,350.5 368.3,348.6 368.4,351.9 368.5,345.4 368.6,351.4 368.7,349.2 368.8,347.9 368.9,350.2 369.0,346.0 369.1,348.7 369.2,350.9 369.3,351.8 369.4,349.9 369.5,351.2 369.6,348.5 369.7,349.9 369.8,347.1 369.9,347.5 370.0,346.8 370.1,351.1 370.2,351.7 370.3,346.0 370.4,350.1 370.5,352.3 370.6,351.4 370.7,350.8 370.8,349.2 370.9,346.5 371.0,348.3 371.1,347.4 371.2,346.0 371.3,350.6 371.4,349.5 371.5,348.9 371.6,350.0 371.7,348.5 371.8,349.9 371.9,345.4 372.0,350.7 372.1,350.1 372.2,346.1 372.3,349.6 372.4,347.7 372.5,351.3 372.6,349.7 372.7,350.4 372.8,346.1 372.9,351.0 373.0,350.4 373.1,348.8 373.2,349.7 373.3,349.3 373.4,348.1 373.5,349.0 373.6,349.7 373.7,346.5 373.8,345.9 373.9,347.8 374.0,349.3 374.1,350.9 374.2,351.7 374.3,351.3 374.4,349.0 374.5,348.8 374.6,350.4 374.7,346.8 374.8,347.2 374.9,353.0 375.0,347.2 375.1,346.9 375.2,351.4 375.3,350.1 375.4,350.8 375.5,348.2 375.6,351.7 375.7,348.5 375.8,347.6 375.9,348.5 376.0,348.2 376.1,351.2 376.2,348.6 376.3,351.1 376.4,350.5 376.5,351.1 376.6,350.7 376.7,348.4 376.8,350.5 376.9,352.0 377.0,350.9 377.1,350.9 377.2,348.4 377.3,348.5 377.4,349.9 377.5,348.3 377.6,351.3 377.7,348.8 377.8,350.9 377.9,351.6 378.0,348.6 378.1,349.0 378.2,352.2 378.3,346.9 378.4,350.4 378.5,351.4 378.6,350.5 378.7,349.9 378.8,347.8 378.9,352.9 379.0,353.1 379.1,349.6 379.2,347.9 379.3,350.6 379.4,351.0 379.5,349.4 379.6,351.1 379.7,353.2 379.8,349.3 379.9,353.4 380.0,350.9 380.1,350.2 380.2,352.7 380.3,352.0 380.4,351.9 380.5,354.8 380.6,354.4 380.7,351.4 380.8,353.5 380.9,351.6 381.0,350.3 381.1,353.9 381.2,350.6 381.3,354.6 381.4,353.0 381.5,349.3 381.6,349.8 381.7,353.3 381.8,349.0 381.9,351.1 382.0,351.4 382.1,349.4 382.2,349.1 382.3,355.2 382.4,353.8 382.5,353.2 382.6,351.9 382.7,352.5 382.8,357.6 382.9,358.1 383.0,357.3 383.1,354.3 383.2,355.5 383.3,357.0 383.4,358.0 383.5,352.9 383.6,350.8 383.7,351.0 383.8,353.6 383.9,354.7 384.0,352.0 384.1,351.2 384.2,354.2 384.3,351.0 384.4,350.5 384.5,350.7 384.6,351.3 384.7,352.8 384.8,349.6 384.9,352.8 385.0,349.8 385.1,352.4 385.2,349.7 385.3,351.6 385.4,353.3 385.5,351.1 385.6,347.7 385.7,351.2 385.8,349.3 385.9,349.9 386.0,351.9 386.1,352.4 386.2,347.9 386.3,352.2 386.4,352.5 386.5,349.9 386.6,349.0 386.7,353.5 386.8,348.7 386.9,352.3 387.0,346.4 387.1,347.5 387.2,347.1 387.3,349.2 387.4,352.0 387.5,347.3 387.6,347.7 387.7,349.0 387.8,351.7 387.9,350.0 388.0,349.1 388.1,347.5 388.2,351.3 388.3,346.3 388.4,346.8 388.5,350.3 388.6,349.0 388.7,351.1 388.8,348.4 388.9,347.0 389.0,349.4 389.1,349.1 389.2,347.5 389.3,347.5 389.4,346.6 389.5,350.6 389.6,347.7 389.7,347.4 389.8,348.9 389.9,347.0 390.0,350.4 390.1,344.6 390.2,348.0 390.3,346.1 390.4,345.8 390.5,346.1 390.6,350.7 390.7,350.8 390.8,350.1 390.9,352.5 391.0,352.6 391.1,344.5 391.2,347.0 391.3,349.6 391.4,347.8 391.5,350.3 391.6,352.0 391.7,349.5 391.8,346.8 391.9,348.2 392.0,347.4 392.1,350.5 392.2,351.0 392.3,349.8 392.4,349.7 392.5,347.7 392.6,352.0 392.7,346.4 392.8,347.4 392.9,351.3 393.0,349.4 393.1,350.8 393.2,348.7 393.3,347.2 393.4,351.4 393.5,350.6 393.6,350.4 393.7,349.7 393.8,350.9 393.9,347.5 394.0,347.7 394.1,351.8 394.2,349.2 394.3,347.8 394.4,347.2 394.5,348.1 394.6,345.2 394.7,351.1 394.8,351.5 394.9,348.2 395.0,346.7 395.1,351.0 395.2,344.8 395.3,348.7 395.4,349.9 395.5,349.9 395.6,351.7 395.7,348.3 395.8,347.0 395.9,347.6 396.0,352.1 396.1,348.9 396.2,344.8 396.3,346.6 396.4,351.5 396.5,348.5 396.6,351.6 396.7,351.5 396.8,351.9 396.9,348.8 397.0,350.6 397.1,351.4 397.2,350.6 397.3,349.3 397.4,349.7 397.5,349.0 397.6,351.3 397.7,350.8 397.8,346.9 397.9,347.7 398.0,351.5 398.1,350.8 398.2,349.8 398.3,351.8 398.4,348.5 398.5,353.3 398.6,352.7 398.7,349.3 398.8,352.7 398.9,350.2 399.0,349.0 399.1,352.0 399.2,352.1 399.3,352.6 399.4,352.9 399.5,354.0 399.6,352.2 399.7,350.8 399.8,348.3 399.9,352.7 400.0,353.7 400.1,353.0 400.2,351.6 400.3,348.3 400.4,354.7 400.5,352.9 400.6,351.0 400.7,350.8 400.8,353.5 400.9,349.5 401.0,355.2 401.1,354.4 401.2,353.7 401.3,352.3 401.4,350.2 401.5,354.9 401.6,354.3 401.7,349.8 401.8,352.4 401.9,350.3 402.0,353.1 402.1,353.4 402.2,351.9 402.3,355.0 402.4,356.2 402.5,355.1 402.6,356.0 402.7,355.0 402.8,355.0 402.9,353.1 403.0,357.0 403.1,357.2 403.2,354.8 403.3,356.5 403.4,357.1 403.5,353.6 403.6,351.9 403.7,350.3 403.8,350.8 403.9,353.5 404.0,352.6 404.1,353.1 404.2,354.4 404.3,348.8 404.4,354.9 404.5,351.8 404.6,351.5 404.7,349.1 404.8,352.9 404.9,351.7 405.0,350.9 405.1,352.4 405.2,353.6 405.3,351.4 405.4,349.7 405.5,351.0 405.6,351.9 405.7,354.3 405.8,349.0 405.9,348.7 406.0,350.7 406.1,349.5 406.2,346.8 406.3,351.6 406.4,348.2 406.5,350.7 406.6,348.1 406.7,346.9 406.8,350.1 406.9,347.4 407.0,346.9 407.1,349.5 407.2,349.0 407.3,348.8 407.4,346.8 407.5,349.2 407.6,347.1 407.7,351.3 407.8,350.2 407.9,347.4 408.0,349.2 408.1,352.0 408.2,352.0 408.3,347.4 408.4,349.7 408.5,348.5 408.6,348.9 408.7,349.7 408.8,346.6 408.9,352.2 409.0,346.5 409.1,350.6 409.2,349.7 409.3,350.8 409.4,346.7 409.5,346.0 409.6,346.7 409.7,350.5 409.8,347.9 409.9,350.8 410.0,350.1 410.1,351.6 410.2,348.7 410.3,348.0 410.4,350.8 410.5,348.6 410.6,348.5 410.7,347.3 410.8,350.9 410.9,346.7 411.0,349.6 411.1,352.0 411.2,346.9 411.3,352.1 411.4,346.5 411.5,350.2 411.6,350.6 411.7,351.9 411.8,351.7 411.9,346.8 412.0,350.4 412.1,351.1 412.2,351.2 412.3,348.8 412.4,349.7 412.5,350.2 412.6,346.2 412.7,349.9 412.8,348.4 412.9,348.7 413.0,351.7 413.1,350.8 413.2,350.2 413.3,347.8 413.4,349.5 413.5,346.1 413.6,348.3 413.7,350.5 413.8,347.4 413.9,352.7 414.0,348.8 414.1,347.7 414.2,351.1 414.3,347.2 414.4,352.4 414.5,351.1 414.6,352.0 414.7,347.1 414.8,351.6 414.9,349.9 415.0,351.8 415.1,352.5 415.2,349.2 415.3,350.8 415.4,349.8 415.5,350.4 415.6,353.2 415.7,348.4 415.8,352.2 415.9,349.7 416.0,348.5 416.1,347.6 416.2,351.9 416.3,352.6 416.4,351.9 416.5,353.0 416.6,350.3 416.7,348.4 416.8,353.1 416.9,347.7 417.0,351.3 417.1,349.0 417.2,348.6 417.3,350.7 417.4,352.6 417.5,350.9 417.6,351.7 417.7,353.7 417.8,350.4 417.9,352.3 418.0,353.6 418.1,351.6 418.2,353.7 418.3,350.3 418.4,352.9 418.5,354.8 418.6,354.7 418.7,352.5 418.8,355.0 418.9,353.2 419.0,351.8 419.1,350.4 419.2,352.2 419.3,350.3 419.4,354.0 419.5,356.0 419.6,357.6 419.7,355.1 419.8,356.1 419.9,356.6 420.0,354.3 420.1,357.5 420.2,356.9 420.3,353.6 420.4,356.5 420.5,356.1 420.6,350.2 420.7,354.4 420.8,350.1 420.9,355.1 421.0,351.6 421.1,351.4 421.2,350.6 421.3,350.8 421.4,348.9 421.5,353.7 421.6,353.1 421.7,350.1 421.8,351.4 421.9,350.9 422.0,348.7 422.1,353.7 422.2,347.8 422.3,351.5 422.4,349.0 422.5,346.7 422.6,351.4 422.7,350.5 422.8,351.3 422.9,350.5 423.0,350.4 423.1,350.4 423.2,352.6 423.3,348.7 423.4,349.6 423.5,346.9 423.6,349.3 423.7,352.0 423.8,350.7 423.9,351.4 424.0,350.4 424.1,352.2 424.2,347.4 424.3,349.3 424.4,351.3 424.5,351.9 424.6,350.7 424.7,346.3 424.8,348.4 424.9,345.4 425.0,352.4 425.1,346.6 425.2,348.8 425.3,347.9 425.4,350.4 425.5,346.3 425.6,350.1 425.7,346.9 425.8,351.8 425.9,346.6 426.0,348.3 426.1,348.9 426.2,347.5 426.3,351.3 426.4,349.4 426.5,348.2 426.6,348.4 426.7,347.3 426.8,352.3 426.9,349.0 427.0,346.1 427.1,347.5 427.2,346.4 427.3,347.5 427.4,347.0 427.5,346.9 427.6,349.1 427.7,347.9 427.8,350.2 427.9,347.9 428.0,348.1 428.1,347.0 428.2,351.6 428.3,348.8 428.4,345.2 428.5,348.3 428.6,346.2 428.7,345.1 428.8,352.5 428.9,347.4 429.0,347.6 429.1,352.5 429.2,349.6 429.3,346.1 429.4,347.7 429.5,346.8 429.6,351.5 429.7,347.9 429.8,346.6 429.9,349.2 430.0,345.6 430.1,349.7 430.2,347.5 430.3,350.5 430.4,349.5 430.5,351.4 430.6,351.1 430.7,347.8 430.8,350.6 430.9,349.8 431.0,347.7 431.1,348.2 431.2,347.2 431.3,352.7 431.4,346.7 431.5,352.0 431.6,349.0 431.7,347.7 431.8,346.5 431.9,351.3 432.0,347.0 432.1,350.1 432.2,347.9 432.3,345.8 432.4,350.3 432.5,350.6 432.6,349.2 432.7,351.4 432.8,348.2 432.9,351.3 433.0,347.9 433.1,350.1 433.2,346.8 433.3,349.6 433.4,348.5 433.5,350.0 433.6,350.3 433.7,348.6 433.8,347.7 433.9,349.1 434.0,347.1 434.1,352.0 434.2,347.2 434.3,349.2 434.4,351.1 434.5,347.6 434.6,348.2 434.7,351.7 434.8,351.2 434.9,351.0 435.0,349.8 435.1,347.9 435.2,350.7 435.3,350.9 435.4,348.7 435.5,350.6 435.6,347.9 435.7,347.6 435.8,347.9 435.9,347.1 436.0,352.2 436.1,351.0 436.2,346.9 436.3,348.6 436.4,348.7 436.5,348.6 436.6,348.2 436.7,354.2 436.8,353.4 436.9,352.6 437.0,347.5 437.1,353.7 437.2,348.8 437.3,349.9 437.4,350.3 437.5,351.0 437.6,353.5 437.7,351.9 437.8,347.6 437.9,352.7 438.0,349.5 438.1,349.9 438.2,351.3 438.3,351.2 438.4,353.6 438.5,348.8 438.6,351.1 438.7,348.4 438.8,349.8 438.9,352.9 439.0,350.2 439.1,351.2 439.2,350.2 439.3,352.9 439.4,350.3 439.5,354.2 439.6,351.7 439.7,352.5 439.8,354.0 439.9,358.2 440.0,359.8 440.1,359.1 440.2,354.7 440.3,357.1 440.4,355.5 440.5,353.3 440.6,353.8 440.7,356.2 440.8,353.8 440.9,356.9 441.0,355.8 441.1,352.1 441.2,353.9 441.3,353.7 441.4,352.4 441.5,352.7 441.6,351.7 441.7,349.5 441.8,349.3 441.9,353.4 442.0,354.7 442.1,352.8 442.2,354.6 442.3,354.0 442.4,349.1 442.5,353.2 442.6,353.9 442.7,348.5 442.8,351.7 442.9,348.7 443.0,349.7 443.1,347.3 443.2,353.2 443.3,349.6 443.4,347.0 443.5,348.2 443.6,350.1 443.7,352.4 443.8,348.4 443.9,349.0 444.0,347.8 444.1,351.3 444.2,350.5 444.3,352.9 444.4,346.5 444.5,346.8 444.6,350.0 444.7,345.6 444.8,348.4 444.9,348.3 445.0,347.4 445.1,349.4 445.2,348.6 445.3,346.5 445.4,351.6 445.5,349.1 445.6,352.6 445.7,350.6 445.8,348.1 445.9,350.9 446.0,350.2 446.1,349.8 446.2,345.9 446.3,351.8 446.4,351.5 446.5,348.9 446.6,348.7 446.7,345.5 446.8,349.4 446.9,350.5 447.0,348.8 447.1,347.3 447.2,346.7 447.3,351.3 447.4,348.3 447.5,348.3 447.6,348.4 447.7,348.7 447.8,347.7 447.9,348.8 448.0,344.8 448.1,345.4 448.2,348.1 448.3,351.0 448.4,349.4 448.5,348.0 448.6,348.9 448.7,347.8 448.8,349.6 448.9,345.5 449.0,348.7 449.1,347.1 449.2,347.2 449.3,347.9 449.4,349.6 449.5,350.4 449.6,351.8 449.7,350.8 449.8,347.1 449.9,349.4 450.0,351.7 450.1,345.2 450.2,350.8 450.3,352.7 450.4,349.9 450.5,350.6 450.6,349.9 450.7,346.7 450.8,348.6 450.9,352.1 451.0,348.4 451.1,346.3 451.2,349.2 451.3,347.8 451.4,347.7 451.5,348.1 451.6,348.1 451.7,351.1 451.8,349.0 451.9,351.2 452.0,349.8 452.1,353.1 452.2,349.2 452.3,350.0 452.4,346.9 452.5,346.9 452.6,352.4 452.7,348.9 452.8,346.4 452.9,352.3 453.0,346.8 453.1,348.0 453.2,350.1 453.3,349.5 453.4,349.2 453.5,351.4 453.6,351.7 453.7,350.1 453.8,349.8 453.9,352.3 454.0,348.4 454.1,345.9 454.2,346.9 454.3,347.8 454.4,350.8 454.5,351.1 454.6,351.7 454.7,352.9 454.8,353.3 454.9,351.5 455.0,350.7 455.1,351.6 455.2,351.0 455.3,347.8 455.4,353.0 455.5,348.7 455.6,348.8 455.7,350.8 455.8,348.2 455.9,352.7 456.0,350.0 456.1,351.3 456.2,348.3 456.3,351.4 456.4,352.2 456.5,351.5 456.6,348.6 456.7,351.1 456.8,354.2 456.9,350.3 457.0,354.9 457.1,352.3 457.2,354.7 457.3,349.8 457.4,354.7 457.5,354.2 457.6,349.6 457.7,352.7 457.8,353.4 457.9,351.6 458.0,352.2 458.1,353.7 458.2,354.9 458.3,353.1 458.4,351.8 458.5,350.8 458.6,352.6 458.7,356.4 458.8,357.0 458.9,354.9 459.0,358.0 459.1,355.8 459.2,354.1 459.3,357.8 459.4,355.4 459.5,351.4 459.6,353.5 459.7,353.2 459.8,352.7 459.9,352.4 460.0,352.3 460.1,352.8 460.2,352.3 460.3,352.3 460.4,350.9 460.5,354.0 460.6,354.9 460.7,353.1 460.8,350.9 460.9,352.7 461.0,353.1 461.1,351.6 461.2,348.5 461.3,352.9 461.4,351.1 461.5,349.7 461.6,347.8 461.7,353.3 461.8,348.0 461.9,351.4 462.0,347.9 462.1,352.8 462.2,352.7 462.3,348.1 462.4,349.5 462.5,352.8 462.6,349.1 462.7,352.4 462.8,350.2 462.9,348.9 463.0,348.3 463.1,346.8 463.2,347.5 463.3,349.2 463.4,347.9 463.5,349.2 463.6,346.7 463.7,351.3 463.8,351.3 463.9,349.1 464.0,346.7 464.1,351.6 464.2,347.7 464.3,348.1 464.4,349.8 464.5,347.6 464.6,347.8 464.7,350.8 464.8,345.5 464.9,348.2 465.0,351.4 465.1,349.6 465.2,348.8 465.3,350.4 465.4,350.8 465.5,350.4 465.6,349.7 465.7,349.3 465.8,348.1 465.9,352.0 466.0,350.6 466.1,350.4 466.2,346.8 466.3,348.5 466.4,351.6 466.5,351.9 466.6,351.0 466.7,350.7 466.8,347.1 466.9,347.9 467.0,349.7 467.1,348.3 467.2,348.5 467.3,346.7 467.4,352.4 467.5,351.1 467.6,351.0 467.7,350.8 467.8,352.6 467.9,351.0 468.0,349.9 468.1,348.0 468.2,351.5 468.3,351.2 468.4,346.9 468.5,348.8 468.6,350.8 468.7,347.7 468.8,352.3 468.9,347.4 469.0,350.2 469.1,352.3 469.2,349.3 469.3,352.1 469.4,347.4 469.5,347.7 469.6,350.2 469.7,348.3 469.8,347.1 469.9,346.0 470.0,346.5 470.1,350.4 470.2,351.7 470.3,350.6 470.4,349.7 470.5,349.9 470.6,346.7 470.7,351.3 470.8,350.4 470.9,348.1 471.0,349.3 471.1,349.1 471.2,350.9 471.3,350.3 471.4,350.7 471.5,349.0 471.6,351.8 471.7,349.8 471.8,348.9 471.9,350.6 472.0,350.6 472.1,351.4 472.2,347.2 472.3,352.2 472.4,350.0 472.5,348.9 472.6,349.6 472.7,350.4 472.8,347.9 472.9,353.4 473.0,352.3 473.1,352.8 473.2,349.7 473.3,349.7 473.4,352.5 473.5,352.9 473.6,351.2 473.7,349.9 473.8,351.6 473.9,347.4 474.0,352.6 474.1,351.1 474.2,352.1 474.3,353.7 474.4,352.2 474.5,349.4 474.6,351.5 474.7,354.2 474.8,350.9 474.9,352.6 475.0,351.2 475.1,352.1 475.2,353.3 475.3,356.1 475.4,351.5 475.5,353.6 475.6,352.2 475.7,355.9 475.8,350.7 475.9,353.6 476.0,357.1 476.1,359.3 476.2,353.6 476.3,355.5 476.4,354.3 476.5,356.5 476.6,354.8 476.7,355.1 476.8,352.8 476.9,356.0 477.0,353.3 477.1,352.4 477.2,351.7 477.3,351.6 477.4,355.3 477.5,353.5 477.6,351.4 477.7,350.7 477.8,352.3 477.9,348.9 478.0,354.7 478.1,349.4 478.2,354.4 478.3,349.0 478.4,352.8 478.5,350.0 478.6,348.6 478.7,347.6 478.8,351.0 478.9,349.3 479.0,348.0 479.1,348.8 479.2,347.4 479.3,347.9 479.4,350.9 479.5,351.6 479.6,349.6 479.7,352.3 479.8,351.7 479.9,353.5 480.0,351.1 480.1,351.6 480.2,350.1 480.3,351.6 480.4,348.4 480.5,352.9 480.6,347.6 480.7,353.4 480.8,347.8 480.9,348.2 481.0,346.9 481.1,348.0 481.2,349.8 481.3,349.5 481.4,348.2 481.5,349.4 481.6,345.3 481.7,348.3 481.8,349.7 481.9,349.3 482.0,351.7 482.1,350.0 482.2,349.5 482.3,349.0 482.4,347.7 482.5,349.0 482.6,349.5 482.7,350.1 482.8,348.4 482.9,345.9 483.0,347.9 483.1,350.9 483.2,352.4 483.3,347.1 483.4,350.1 483.5,347.8 483.6,346.1 483.7,348.6 483.8,349.3 483.9,349.7 484.0,350.2 484.1,347.6 484.2,350.7 484.3,348.4 484.4,347.9 484.5,346.4 484.6,344.4 484.7,347.4 484.8,346.5 484.9,347.5 485.0,345.2 485.1,350.0 485.2,346.1 485.3,350.4 485.4,346.3 485.5,346.5 485.6,345.2 485.7,347.5 485.8,346.4 485.9,349.2 486.0,350.7 486.1,345.7 486.2,347.5 486.3,346.3 486.4,350.4 486.5,348.6 486.6,350.2 486.7,350.3 486.8,351.0 486.9,351.0 487.0,350.7 487.1,344.8 487.2,350.1 487.3,349.5 487.4,345.1 487.5,346.0 487.6,348.5 487.7,352.5 487.8,346.0 487.9,351.0 488.0,348.2 488.1,350.0 488.2,350.0 488.3,348.5 488.4,348.3 488.5,348.2 488.6,346.9 488.7,350.7 488.8,348.0 488.9,346.5 489.0,346.0 489.1,347.3 489.2,349.8 489.3,345.7 489.4,350.8 489.5,347.9 489.6,351.0 489.7,350.5 489.8,346.0 489.9,350.0 490.0,351.8 490.1,351.5 490.2,352.2 490.3,349.4 490.4,348.1 490.5,351.7 490.6,347.8 490.7,353.2 490.8,345.8 490.9,348.3 491.0,346.7 491.1,349.1 491.2,346.9 491.3,347.8 491.4,351.0 491.5,349.2 491.6,349.6 491.7,352.1 491.8,350.9 491.9,350.9 492.0,347.7 492.1,352.2 492.2,348.6 492.3,348.2 492.4,350.8 492.5,351.6 492.6,350.1 492.7,351.0 492.8,346.1 492.9,348.5 493.0,351.4 493.1,349.5 493.2,347.9 493.3,352.3 493.4,348.9 493.5,349.4 493.6,352.5 493.7,349.6 493.8,353.1 493.9,348.3 494.0,349.6 494.1,352.8 494.2,353.8 494.3,350.0 494.4,354.9 494.5,351.2 494.6,347.3 494.7,350.3 494.8,349.2 494.9,350.7 495.0,347.4 495.1,349.5 495.2,348.7 495.3,350.2 495.4,355.4 495.5,352.4 495.6,348.0 495.7,349.4 495.8,354.3 495.9,349.2 496.0,355.2 496.1,351.0 496.2,353.9 496.3,352.3 496.4,352.6 496.5,354.7 496.6,353.2 496.7,355.4 496.8,353.8 496.9,351.6 497.0,359.5 497.1,360.7 497.2,354.7 497.3,354.1 497.4,355.1 497.5,354.5 497.6,356.9 497.7,357.6 497.8,356.3 497.9,355.0 498.0,355.4 498.1,354.4 498.2,353.4 498.3,350.5 498.4,352.6 498.5,355.5 498.6,355.3 498.7,349.6 498.8,351.7 498.9,349.9 499.0,352.2 499.1,349.3 499.2,353.9 499.3,348.3 499.4,349.7 499.5,353.1 499.6,350.8 499.7,353.2 499.8,349.0 499.9,351.5 500.0,349.0 500.1,349.7 500.2,348.2 500.3,353.0 500.4,348.8 500.5,352.5 500.6,349.7 500.7,347.8 500.8,351.6 500.9,347.5 501.0,349.6 501.1,347.8 501.2,353.7 501.3,347.0 501.4,349.4 501.5,349.4 501.6,350.6 501.7,348.2 501.8,346.1 501.9,350.6 502.0,348.9 502.1,345.2 502.2,350.6 502.3,349.8 502.4,347.7 502.5,351.1 502.6,351.7 502.7,350.8 502.8,348.0 502.9,352.4 503.0,345.2 503.1,350.8 503.2,351.4 503.3,346.4 503.4,344.6 503.5,349.7 503.6,350.9 503.7,346.7 503.8,344.7 503.9,346.2 504.0,348.2 504.1,349.3 504.2,348.0 504.3,348.2 504.4,347.4 504.5,352.1 504.6,349.9 504.7,347.1 504.8,346.8 504.9,349.2 505.0,351.2 505.1,348.9 505.2,349.2 505.3,349.6 505.4,351.1 505.5,348.9 505.6,349.1 505.7,347.7 505.8,350.5 505.9,348.8 506.0,349.3 506.1,347.1 506.2,347.4 506.3,344.7 506.4,345.7 506.5,349.1 506.6,349.2 506.7,351.2 506.8,346.6 506.9,347.7 507.0,351.4 507.1,351.5 507.2,351.3 507.3,350.1 507.4,351.4 507.5,346.6 507.6,348.2 507.7,350.1 507.8,347.4 507.9,347.7 508.0,347.3 508.1,351.8 508.2,349.4 508.3,350.5 508.4,346.9 508.5,351.4 508.6,350.6 508.7,348.6 508.8,346.3 508.9,348.5 509.0,345.4 509.1,350.0 509.2,349.1 509.3,348.5 509.4,347.6 509.5,347.0 509.6,346.9 509.7,350.2 509.8,350.1 509.9,349.4 510.0,348.9 510.1,345.9 510.2,350.7 510.3,349.0 510.4,346.7 510.5,350.3 510.6,347.4 510.7,350.7 510.8,350.0 510.9,348.5 511.0,351.1 511.1,353.2 511.2,348.3 511.3,348.5 511.4,351.9 511.5,346.1 511.6,346.7 511.7,349.6 511.8,347.0 511.9,349.3 512.0,346.8 512.1,352.0 512.2,349.8 512.3,352.6 512.4,349.5 512.5,350.2 512.6,348.0 512.7,351.1 512.8,352.7 512.9,352.3 513.0,351.9 513.1,354.6 513.2,349.0 513.3,352.0 513.4,353.7 513.5,348.6 513.6,353.0 513.7,349.2 513.8,352.8 513.9,349.1 514.0,352.2 514.1,349.9 514.2,351.8 514.3,351.0 514.4,349.7 514.5,351.5 514.6,352.0 514.7,352.8 514.8,348.1 514.9,352.7 515.0,355.5 515.1,350.9 515.2,354.1 515.3,350.6 515.4,349.1 515.5,353.8 515.6,352.8 515.7,350.1 515.8,355.1 515.9,350.0 516.0,352.2 516.1,351.6 516.2,356.4 516.3,351.2 516.4,355.8 516.5,354.6 516.6,355.9 516.7,357.2 516.8,356.5 516.9,356.4 517.0,356.2 517.1,354.1 517.2,351.8 517.3,356.2 517.4,350.9 517.5,352.4 517.6,354.1 517.7,350.9 517.8,349.3 517.9,357.1 518.0,351.2 518.1,354.4 518.2,353.6 518.3,352.3 518.4,350.8 518.5,354.5 518.6,353.8 518.7,349.5 518.8,352.5 518.9,348.2 519.0,354.0 519.1,350.2 519.2,349.7 519.3,353.7 519.4,349.3 519.5,351.2 519.6,348.2 519.7,349.9 519.8,351.8 519.9,347.0 520.0,348.5 520.1,348.6 520.2,353.0 520.3,351.6 520.4,352.8 520.5,348.6 520.6,350.5 520.7,349.9 520.8,350.3 520.9,351.5 521.0,349.3 521.1,349.5 521.2,351.3 521.3,351.5 521.4,350.3 521.5,347.6 521.6,353.1 521.7,349.6 521.8,350.1 521.9,348.6 522.0,348.9 522.1,347.5 522.2,349.1 522.3,349.6 522.4,350.4 522.5,352.3 522.6,349.3 522.7,349.9 522.8,350.4 522.9,346.6 523.0,350.5 523.1,347.4 523.2,348.9 523.3,345.9 523.4,350.8 523.5,346.8 523.6,350.3 523.7,348.0 523.8,351.3 523.9,347.9 524.0,349.0 524.1,349.7 524.2,349.5 524.3,350.8 524.4,351.1 524.5,351.6 524.6,347.7 524.7,347.2 524.8,347.7 524.9,346.6 525.0,350.9 525.1,351.3 525.2,345.9 525.3,350.8 525.4,349.0 525.5,346.2 525.6,349.4 525.7,348.5 525.8,348.1 525.9,348.3 526.0,350.8 526.1,349.2 526.2,346.8 526.3,347.1 526.4,352.5 526.5,350.5 526.6,352.4 526.7,348.8 526.8,348.5 526.9,347.5 527.0,348.5 527.1,351.8 527.2,352.2 527.3,346.6 527.4,353.0 527.5,351.7 527.6,347.1 527.7,345.6 527.8,347.9 527.9,351.9 528.0,351.6 528.1,348.8 528.2,347.9 528.3,351.8 528.4,347.9 528.5,352.1 528.6,348.7 528.7,350.7 528.8,350.9 528.9,348.1 529.0,349.5 529.1,352.3 529.2,351.9 529.3,351.9 529.4,350.9 529.5,352.3 529.6,350.7 529.7,348.6 529.8,351.3 529.9,349.8 530.0,348.5 530.1,349.9 530.2,346.3 530.3,350.9 530.4,352.3 530.5,350.4 530.6,348.6 530.7,349.7 530.8,351.7 530.9,348.6 531.0,352.8 531.1,349.2 531.2,351.3 531.3,354.0 531.4,353.4 531.5,347.9 531.6,349.8 531.7,354.3 531.8,355.1 531.9,349.3 532.0,351.1 532.1,354.4 532.2,352.4 532.3,353.4 532.4,350.0 532.5,351.7 532.6,353.9 532.7,352.2 532.8,348.9 532.9,350.2 533.0,351.2 533.1,353.1 533.2,352.9 533.3,353.0 533.4,351.9 533.5,351.7 533.6,356.0 533.7,358.2 533.8,355.5 533.9,358.5 534.0,358.6 534.1,352.9 534.2,352.7 534.3,354.4 534.4,352.9 534.5,355.7 534.6,351.4 534.7,353.5 534.8,355.0 534.9,356.6 535.0,351.7 535.1,353.1 535.2,353.2 535.3,356.6 535.4,353.5 535.5,352.5 535.6,350.1 535.7,350.3 535.8,351.3 535.9,353.4 536.0,350.8 536.1,351.4 536.2,346.9 536.3,351.1 536.4,349.0 536.5,348.3 536.6,352.3 536.7,349.6 536.8,349.1 536.9,348.1 537.0,348.4 537.1,347.9 537.2,351.1 537.3,351.2 537.4,346.2 537.5,351.2 537.6,350.5 537.7,348.4 537.8,346.3 537.9,346.7 538.0,347.7 538.1,347.8 538.2,348.3 538.3,347.6 538.4,351.6 538.5,347.2 538.6,351.1 538.7,347.2 538.8,349.8 538.9,347.4 539.0,346.0 539.1,345.3 539.2,349.4 539.3,347.0 539.4,351.4 539.5,348.0 539.6,347.8 539.7,348.2 539.8,350.0 539.9,349.6 540.0,347.5 540.1,347.9 540.2,350.9 540.3,350.7 540.4,344.9 540.5,349.0 540.6,347.4 540.7,348.9 540.8,347.0 540.9,347.5 541.0,345.5 541.1,349.1 541.2,349.8 541.3,349.3 541.4,345.3 541.5,350.0 541.6,349.3 541.7,347.6 541.8,347.6 541.9,348.1 542.0,351.3 542.1,346.7 542.2,348.4 542.3,350.4 542.4,347.9 542.5,348.5 542.6,345.5 542.7,350.0 542.8,349.2 542.9,348.9 543.0,350.4 543.1,347.6 543.2,350.4 543.3,350.5 543.4,351.1 543.5,348.3 543.6,348.4 543.7,351.5 543.8,350.4 543.9,346.2 544.0,349.1 544.1,345.6 544.2,350.9 544.3,344.1 544.4,346.5 544.5,347.6 544.6,346.8 544.7,346.4 544.8,347.7 544.9,349.7 545.0,350.0 545.1,351.8 545.2,349.9 545.3,348.7 545.4,350.3 545.5,346.9 545.6,351.0 545.7,349.7 545.8,352.6 545.9,347.2 546.0,349.4 546.1,344.8 546.2,348.7 546.3,347.2 546.4,346.8 546.5,351.4 546.6,351.5 546.7,352.1 546.8,345.2 546.9,350.3 547.0,347.5 547.1,346.5 547.2,349.2 547.3,350.9 547.4,347.1 547.5,349.4 547.6,349.3 547.7,348.1 547.8,352.5 547.9,350.6 548.0,351.8 548.1,351.0 548.2,346.9 548.3,348.5 548.4,346.8 548.5,352.1 548.6,348.4 548.7,348.7 548.8,350.8 548.9,347.2 549.0,352.5 549.1,352.3 549.2,348.7 549.3,349.0 549.4,351.2 549.5,351.1 549.6,352.3 549.7,349.0 549.8,352.6 549.9,352.4 550.0,351.9 550.1,348.2 550.2,347.8 550.3,349.1 550.4,351.8 550.5,352.4 550.6,351.3 550.7,350.7 550.8,350.6 550.9,351.2 551.0,347.2 551.1,353.4 551.2,350.8 551.3,352.0 551.4,349.1 551.5,353.1 551.6,351.5 551.7,353.2 551.8,353.1 551.9,349.6 552.0,349.2 552.1,350.7 552.2,353.1 552.3,351.2 552.4,351.8 552.5,350.1 552.6,351.3 552.7,350.6 552.8,352.6 552.9,354.1 553.0,352.1 553.1,354.0 553.2,351.7 553.3,351.9 553.4,352.1 553.5,354.8 553.6,354.1 553.7,354.1 553.8,352.6 553.9,354.9 554.0,355.0 554.1,353.8 554.2,354.0 554.3,356.6 554.4,354.5 554.5,352.4 554.6,354.0 554.7,357.8 554.8,355.4 554.9,356.0 555.0,352.9 555.1,355.9 555.2,351.1 555.3,350.4 555.4,354.8 555.5,349.1 555.6,349.0 555.7,350.7 555.8,352.4 555.9,350.2 556.0,350.4 556.1,348.6 556.2,353.8 556.3,350.6 556.4,348.7 556.5,348.5 556.6,352.4 556.7,352.5 556.8,348.0 556.9,351.2 557.0,347.9 557.1,350.9 557.2,350.8 557.3,347.4 557.4,349.2 557.5,352.9 557.6,352.3 557.7,352.4 557.8,347.7 557.9,347.7 558.0,350.8 558.1,350.4 558.2,349.8 558.3,352.1 558.4,346.7 558.5,348.2 558.6,347.0 558.7,348.8 558.8,352.3 558.9,349.4 559.0,349.5 559.1,345.7 559.2,347.0 559.3,350.9 559.4,345.4 559.5,348.1 559.6,350.0 559.7,347.0 559.8,349.0 559.9,352.3 560.0,351.4 560.1,349.2 560.2,347.2 560.3,351.5 560.4,347.5 560.5,348.1 560.6,346.7 560.7,349.0 560.8,347.2 560.9,348.5 561.0,350.7 561.1,347.0 561.2,345.6 561.3,350.6 561.4,351.0 561.5,350.3 561.6,350.2 561.7,349.3 561.8,349.1 561.9,346.9 562.0,346.5 562.1,347.8 562.2,349.0 562.3,347.8 562.4,346.1 562.5,350.3 562.6,344.7 562.7,348.4 562.8,349.2 562.9,350.8 563.0,350.8 563.1,351.5 563.2,348.8 563.3,349.7 563.4,350.3 563.5,351.1 563.6,349.7 563.7,348.1 563.8,350.9 563.9,349.6 564.0,349.3 564.1,351.0 564.2,349.5 564.3,347.5 564.4,351.3 564.5,348.7 564.6,351.2 564.7,349.1 564.8,350.4 564.9,351.2 565.0,350.3 565.1,345.8 565.2,351.2 565.3,350.4 565.4,348.8 565.5,350.9 565.6,349.6 565.7,351.2 565.8,348.5 565.9,352.3 566.0,348.7 566.1,351.4 566.2,351.2 566.3,345.1 566.4,349.4 566.5,347.3 566.6,351.8 566.7,347.2 566.8,350.3 566.9,345.9 567.0,347.1 567.1,349.3 567.2,348.1 567.3,352.0 567.4,347.6 567.5,349.1 567.6,350.8 567.7,351.2 567.8,346.7 567.9,349.3 568.0,347.6 568.1,349.1 568.2,352.8 568.3,349.3 568.4,351.5 568.5,351.9 568.6,348.2 568.7,349.6 568.8,352.7 568.9,351.4 569.0,351.8 569.1,350.9 569.2,349.4 569.3,351.9 569.4,353.9 569.5,353.6 569.6,350.7 569.7,352.9 569.8,349.6 569.9,350.0 570.0,354.0 570.1,353.7 570.2,347.6 570.3,354.1 570.4,353.5 570.5,352.0 570.6,350.6 570.7,349.6 570.8,354.3 570.9,349.4 571.0,350.8 571.1,351.7 571.2,354.2 571.3,350.0 571.4,352.7 571.5,352.1 571.6,353.9 571.7,354.6 571.8,349.2 571.9,352.2 572.0,354.2 572.1,351.3 572.2,353.9 572.3,354.6 572.4,355.5 572.5,351.8 572.6,352.1 572.7,354.8 572.8,354.3 572.9,355.2 573.0,357.4 573.1,355.4 573.2,356.5 573.3,354.5 573.4,352.3 573.5,355.8 573.6,355.8 573.7,354.8 573.8,355.5 573.9,351.2 574.0,355.2 574.1,353.9 574.2,354.4 574.3,349.4 574.4,352.4 574.5,349.8 574.6,350.9 574.7,353.7 574.8,353.5 574.9,351.6 575.0,352.3 575.1,348.4 575.2,352.0 575.3,350.1 575.4,353.1 575.5,351.5 575.6,350.4 575.7,350.0 575.8,349.8 575.9,353.3 576.0,347.5 576.1,351.9 576.2,348.0 576.3,349.2 576.4,348.3 576.5,348.1 576.6,352.1 576.7,350.4 576.8,352.3 576.9,351.7 577.0,351.9 577.1,348.9 577.2,348.9 577.3,352.3 577.4,349.7 577.5,351.9 577.6,352.2 577.7,346.4 577.8,348.0 577.9,350.3 578.0,345.2 578.1,351.6 578.2,350.2 578.3,352.1 578.4,349.2 578.5,347.5 578.6,349.7 578.7,346.7 578.8,351.4 578.9,351.6 579.0,350.4 579.1,351.0 579.2,347.7 579.3,349.6 579.4,346.8 579.5,350.5 579.6,350.1 579.7,347.6 579.8,346.7 579.9,348.9 580.0,351.5 580.1,346.0 580.2,345.5 580.3,349.5 580.4,347.8 580.5,349.1 580.6,349.6 580.7,347.3 580.8,348.6 580.9,351.4 581.0,346.8 581.1,345.0 581.2,347.6 581.3,348.0 581.4,347.7 581.5,346.5 581.6,350.6 581.7,349.6 581.8,352.0 581.9,346.9 582.0,348.6 582.1,349.1 582.2,348.3 582.3,349.9 582.4,352.2 582.5,346.2 582.6,351.1 582.7,351.7 582.8,349.1 582.9,347.0 583.0,347.2 583.1,346.3 583.2,350.7 583.3,346.2 583.4,348.9 583.5,350.0 583.6,351.1 583.7,346.7 583.8,348.2 583.9,350.1 584.0,350.1 584.1,349.2 584.2,347.7 584.3,348.5 584.4,350.6 584.5,347.2 584.6,352.3 584.7,350.1 584.8,349.4 584.9,348.6 585.0,351.9 585.1,352.2 585.2,349.5 585.3,352.5 585.4,348.9 585.5,349.5 585.6,350.2 585.7,352.7 585.8,353.0 585.9,349.0 586.0,349.4 586.1,352.9 586.2,352.0 586.3,347.6 586.4,348.5 586.5,348.0 586.6,352.4 586.7,348.8 586.8,352.6 586.9,347.4 587.0,347.5 587.1,350.3 587.2,351.9 587.3,352.2 587.4,349.1 587.5,351.3 587.6,353.9 587.7,351.1 587.8,348.5 587.9,349.4 588.0,350.9 588.1,350.7 588.2,354.0 588.3,350.9 588.4,352.8 588.5,352.9 588.6,351.2 588.7,350.1 588.8,348.7 588.9,350.8 589.0,354.7 589.1,351.3 589.2,352.5 589.3,350.5 589.4,355.3 589.5,354.1 589.6,352.0 589.7,354.1 589.8,352.3 589.9,356.3 590.0,358.3 590.1,359.1 590.2,352.9 590.3,358.6 590.4,353.6 590.5,354.3 590.6,353.8 590.7,355.4 590.8,353.3 590.9,353.1 591.0,353.5 591.1,353.5 591.2,352.7 591.3,354.9 591.4,353.2 591.5,350.4 591.6,351.2 591.7,352.1 591.8,349.1 591.9,350.8 592.0,349.4 592.1,353.2 592.2,352.2 592.3,348.1 592.4,351.7 592.5,350.5 592.6,353.0 592.7,348.7 592.8,352.4 592.9,352.1 593.0,353.0 593.1,346.9 593.2,351.8 593.3,351.9 593.4,353.0 593.5,347.5 593.6,348.5 593.7,347.6 593.8,349.8 593.9,349.0 594.0,352.8 594.1,351.1 594.2,346.8 594.3,348.2 594.4,347.5 594.5,346.3 594.6,348.0 594.7,350.8 594.8,348.0 594.9,350.9 595.0,346.9 595.1,350.1 595.2,347.7 595.3,347.1 595.4,347.9 595.5,345.8 595.6,345.1 595.7,346.8 595.8,349.9 595.9,351.4 596.0,348.5 596.1,349.2 596.2,349.5 596.3,350.3 596.4,347.5 596.5,346.1 596.6,347.7 596.7,348.8 596.8,349.3 596.9,349.5 597.0,348.3 597.1,348.4 597.2,349.5 597.3,349.0 597.4,349.2 597.5,348.0 597.6,348.2 597.7,348.4 597.8,351.6 597.9,345.3 598.0,346.4 598.1,350.4 598.2,349.0 598.3,348.4 598.4,347.0 598.5,350.8 598.6,348.3 598.7,349.2 598.8,345.2 598.9,350.9 599.0,347.7 599.1,347.3 599.2,347.3 599.3,351.1 599.4,348.3 599.5,347.8 599.6,348.7 599.7,350.5 599.8,345.7 599.9,346.3 600.0,349.0 600.1,347.6 600.2,348.8 600.3,348.6 600.4,350.6 600.5,349.8 600.6,348.3 600.7,347.8 600.8,349.7 600.9,351.9 601.0,346.8 601.1,345.9 601.2,346.6 601.3,347.0 601.4,350.1 601.5,346.5 601.6,348.8 601.7,347.6 601.8,349.0 601.9,351.8 602.0,347.9 602.1,348.5 602.2,345.8 602.3,347.5 602.4,351.7 602.5,351.2 602.6,349.3 602.7,347.9 602.8,350.6 602.9,351.0 603.0,348.7 603.1,349.0 603.2,351.7 603.3,350.3 603.4,351.0 603.5,345.4 603.6,350.1 603.7,351.5 603.8,349.0 603.9,348.0 604.0,351.7 604.1,351.8 604.2,349.5 604.3,352.0 604.4,352.5 604.5,348.7 604.6,348.1 604.7,350.8 604.8,351.5 604.9,347.6 605.0,347.5 605.1,345.6 605.2,347.7 605.3,350.2 605.4,351.6 605.5,347.5 605.6,347.9 605.7,348.0 605.8,352.7 605.9,352.0 606.0,347.5 606.1,350.4 606.2,351.7 606.3,347.6 606.4,352.8 606.5,352.9 606.6,347.6 606.7,348.9 606.8,349.5 606.9,347.4 607.0,348.7 607.1,349.7 607.2,348.7 607.3,352.4 607.4,348.4 607.5,351.8 607.6,352.6 607.7,351.2 607.8,348.4 607.9,354.2 608.0,352.6 608.1,353.3 608.2,349.3 608.3,350.9 608.4,349.0 608.5,352.2 608.6,350.6 608.7,351.6 608.8,353.0 608.9,352.2 609.0,352.9 609.1,351.3 609.2,354.5 609.3,353.9 609.4,349.8 609.5,350.7 609.6,350.5 609.7,352.6 609.8,352.8 609.9,350.9 610.0,352.8 610.1,353.3 610.2,350.2 610.3,351.8 610.4,353.5 610.5,354.0 610.6,354.7 610.7,353.1 610.8,353.9 610.9,356.2 611.0,354.4 611.1,355.0 611.2,353.7 611.3,353.9 611.4,356.7 611.5,353.3 611.6,353.5 611.7,356.0 611.8,357.9 611.9,356.1 612.0,354.7 612.1,355.5 612.2,350.7 612.3,354.5 612.4,352.1 612.5,352.6 612.6,355.5 612.7,350.7 612.8,352.8 612.9,354.0 613.0,348.5 613.1,349.3 613.2,347.7 613.3,354.5 613.4,351.1 613.5,352.2 613.6,352.8 613.7,352.0 613.8,351.1 613.9,347.7 614.0,350.7 614.1,350.4 614.2,352.5 614.3,351.9 614.4,350.5 614.5,353.6 614.6,347.7 614.7,348.5 614.8,351.3 614.9,349.0 615.0,350.4 615.1,349.1 615.2,348.9 615.3,351.9 615.4,351.7 615.5,346.6 615.6,348.2 615.7,351.0 615.8,347.6 615.9,350.1 616.0,350.4 616.1,345.8 616.2,345.9 616.3,351.3 616.4,352.3 616.5,351.7 616.6,350.8 616.7,347.3 616.8,347.0 616.9,349.8 617.0,345.1 617.1,349.1 617.2,349.2 617.3,352.1 617.4,348.6 617.5,345.2 617.6,346.7 617.7,348.2 617.8,349.7 617.9,351.0 618.0,348.7 618.1,352.2 618.2,348.5 618.3,349.5 618.4,349.4 618.5,347.0 618.6,345.9 618.7,346.6 618.8,350.2 618.9,347.4 619.0,349.1 619.1,347.4 619.2,345.8 619.3,347.0 619.4,346.3 619.5,350.8 619.6,350.9 619.7,347.9 619.8,348.3 619.9,352.0 620.0,349.3 620.1,346.4 620.2,347.1 620.3,346.4 620.4,346.3 620.5,346.6 620.6,347.2 620.7,346.6 620.8,349.6 620.9,350.2 621.0,347.4 621.1,348.4 621.2,348.0 621.3,345.7 621.4,345.6 621.5,350.8 621.6,346.7 621.7,349.5 621.8,347.2 621.9,351.1 622.0,347.8 622.1,350.3 622.2,352.2 622.3,347.2 622.4,349.5 622.5,350.9 622.6,351.0 622.7,348.0 622.8,350.6 622.9,346.5 623.0,346.4 623.1,345.3 623.2,351.2 623.3,347.0 623.4,350.5 623.5,352.8 623.6,351.0 623.7,349.9 623.8,347.4 623.9,352.0 624.0,348.0 624.1,346.7 624.2,348.3 624.3,351.0 624.4,351.9 624.5,349.2 624.6,346.9 624.7,350.3 624.8,349.9 624.9,346.7 625.0,349.6 625.1,349.9 625.2,346.4 625.3,350.8 625.4,349.2 625.5,352.8 625.6,351.0 625.7,351.0 625.8,349.7 625.9,348.5 626.0,349.4 626.1,348.6 626.2,350.3 626.3,348.4 626.4,348.2 626.5,347.7 626.6,348.7 626.7,351.6 626.8,353.3 626.9,351.1 627.0,347.0 627.1,347.4 627.2,348.4 627.3,350.1 627.4,352.2 627.5,349.6 627.6,349.4 627.7,352.9 627.8,351.4 627.9,352.4 628.0,355.2 628.1,349.7 628.2,349.9 628.3,349.3 628.4,351.1 628.5,351.1 628.6,350.4 628.7,351.1 628.8,351.9 628.9,352.7 629.0,350.0 629.1,354.4 629.2,352.2 629.3,353.4 629.4,350.7 629.5,353.7 629.6,354.7 629.7,352.7 629.8,349.6 629.9,352.4 630.0,351.6 630.1,351.7 630.2,354.4 630.3,352.6 630.4,355.2 630.5,360.9 630.6,357.7 630.7,356.5 630.8,354.2 630.9,356.3 631.0,353.9 631.1,356.1 631.2,352.6 631.3,357.3 631.4,357.7 631.5,354.0 631.6,352.9 631.7,351.2 631.8,353.9 631.9,357.5 632.0,351.7 632.1,352.4 632.2,354.7 632.3,352.7 632.4,351.6 632.5,349.8 632.6,350.6 632.7,350.7 632.8,351.7 632.9,349.7 633.0,349.0 633.1,348.8 633.2,351.5 633.3,350.3 633.4,353.0 633.5,348.4 633.6,349.7 633.7,351.2 633.8,352.6 633.9,350.2 634.0,349.3 634.1,349.3 634.2,350.0 634.3,351.1 634.4,350.7 634.5,346.6 634.6,351.4 634.7,351.6 634.8,348.6 634.9,350.2 635.0,352.3 635.1,347.1 635.2,350.3 635.3,349.2 635.4,349.2 635.5,349.8 635.6,350.4 635.7,352.5 635.8,348.4 635.9,349.1 636.0,347.9 636.1,348.2 636.2,351.2 636.3,351.6 636.4,351.0 636.5,348.2 636.6,352.1 636.7,346.4 636.8,352.0 636.9,351.2 637.0,347.0 637.1,348.4 637.2,348.3 637.3,347.6 637.4,350.6 637.5,346.2 637.6,347.5 637.7,348.3 637.8,346.9 637.9,347.0 638.0,346.9 638.1,351.8 638.2,346.6 638.3,350.5 638.4,350.8 638.5,350.9 638.6,350.0 638.7,350.5 638.8,351.9 638.9,348.5 639.0,346.4 639.1,349.2 639.2,347.9 639.3,350.4 639.4,348.1 639.5,351.0 639.6,350.1 639.7,350.0 639.8,351.2 639.9,349.9 640.0,346.8 640.1,346.8 640.2,349.7 640.3,348.8 640.4,349.6 640.5,346.7 640.6,346.4 640.7,350.6 640.8,347.9 640.9,348.9 641.0,351.0 641.1,351.0 641.2,350.4 641.3,349.7 641.4,346.1 641.5,350.4 641.6,349.2 641.7,349.4 641.8,346.2 641.9,347.5 642.0,348.6 642.1,350.8 642.2,350.4 642.3,349.4 642.4,353.2 642.5,347.5 642.6,351.0 642.7,349.6 642.8,347.7 642.9,346.9 643.0,347.0 643.1,346.4 643.2,348.8 643.3,345.2 643.4,348.4 643.5,346.5 643.6,348.8 643.7,349.1 643.8,350.4 643.9,346.4 644.0,349.9 644.1,350.4 644.2,345.9 644.3,344.3 644.4,344.1 644.5,348.0 644.6,349.8 644.7,345.5 644.8,349.1 644.9,349.0 645.0,346.4 645.1,349.8 645.2,348.7 645.3,347.0 645.4,344.6 645.5,348.5 645.6,347.2 645.7,346.6 645.8,347.5 645.9,346.6 646.0,342.6 646.1,344.3 646.2,348.3 646.3,342.1 646.4,347.8 646.5,348.5 646.6,347.7 646.7,342.1 646.8,345.5 646.9,347.0 647.0,344.1 647.1,344.5 647.2,343.1 647.3,342.9 647.4,345.3 647.5,343.3 647.6,346.1 647.7,342.2 647.8,343.5 647.9,343.7 648.0,346.5 648.1,344.5 648.2,341.1 648.3,342.9 648.4,346.1 648.5,345.4 648.6,346.3 648.7,342.9 648.8,341.9 648.9,343.2 649.0,342.8 649.1,345.1 649.2,344.2 649.3,345.2 649.4,346.9 649.5,346.3 649.6,345.3 649.7,341.4 649.8,342.0 649.9,345.7 650.0,346.0 650.1,343.4 650.2,343.1 650.3,347.7 650.4,343.0 650.5,344.9 650.6,346.9 650.7,346.0 650.8,344.5 650.9,346.6 651.0,346.5 651.1,346.4 651.2,344.7 651.3,346.8 651.4,343.6 651.5,347.2 651.6,346.0 651.7,348.9 651.8,346.1 651.9,347.0 652.0,345.4 652.1,345.4 652.2,344.8 652.3,344.0 652.4,347.5 652.5,346.6 652.6,348.7 652.7,348.2 652.8,349.0 652.9,350.9 653.0,349.2 653.1,350.4 653.2,348.7 653.3,350.4 653.4,348.0 653.5,345.6 653.6,346.3 653.7,344.0 653.8,350.2 653.9,348.7 654.0,347.1 654.1,348.8 654.2,347.5 654.3,349.3 654.4,349.2 654.5,351.1 654.6,345.5 654.7,347.0 654.8,346.7 654.9,350.3 655.0,347.4 655.1,346.5 655.2,345.4 655.3,348.1 655.4,346.1 655.5,350.3 655.6,348.3 655.7,350.5 655.8,348.7 655.9,346.3 656.0,348.0 656.1,347.7 656.2,346.9 656.3,349.8 656.4,352.0 656.5,346.8 656.6,351.9 656.7,347.3 656.8,349.7 656.9,347.9 657.0,349.7 657.1,350.1 657.2,347.6 657.3,350.3 657.4,348.2 657.5,346.8 657.6,352.6 657.7,352.5 657.8,351.5 657.9,350.5 658.0,350.1 658.1,352.0 658.2,350.2 658.3,349.1 658.4,353.2 658.5,348.5 658.6,353.2 658.7,347.6 658.8,349.7 658.9,350.1 659.0,349.3 659.1,355.0 659.2,351.2 659.3,350.6 659.4,349.6 659.5,353.3 659.6,351.5 659.7,351.8 659.8,351.4 659.9,350.8 660.0,353.7 660.1,353.6 660.2,349.4 660.3,348.4 660.4,350.7 660.5,353.5 660.6,350.4 660.7,350.9 660.8,351.8 660.9,350.0 661.0,351.2 661.1,357.1 661.2,355.2 661.3,356.0 661.4,351.2 661.5,354.4 661.6,350.1 661.7,354.5 661.8,351.6 661.9,355.3 662.0,350.7 662.1,355.7 662.2,354.8 662.3,355.3 662.4,353.4 662.5,350.9 662.6,356.5 662.7,352.4 662.8,356.5 662.9,357.7 663.0,354.6 663.1,355.0 663.2,355.7 663.3,353.9 663.4,358.0 663.5,356.8 663.6,352.7 663.7,354.9 663.8,356.6 663.9,354.6 664.0,352.6 664.1,351.6 664.2,354.8 664.3,356.7 664.4,356.3 664.5,358.2 664.6,357.3 664.7,355.7 664.8,354.7 664.9,355.4 665.0,351.8 665.1,354.7 665.2,350.8 665.3,353.1 665.4,352.1 665.5,357.5 665.6,352.5 665.7,356.9 665.8,359.5 665.9,358.4 666.0,358.0 666.1,354.4 666.2,358.7 666.3,352.3 666.4,353.6 666.5,354.2 666.6,357.1 666.7,358.2 666.8,359.1 666.9,355.4 667.0,359.9 667.1,356.1 667.2,357.3 667.3,354.8 667.4,356.3 667.5,360.0 667.6,352.2 667.7,355.6 667.8,358.2 667.9,355.1 668.0,356.0 668.1,354.4 668.2,358.6 668.3,355.9 668.4,358.2 668.5,357.7 668.6,356.6 668.7,354.5 668.8,356.8 668.9,352.7 669.0,356.5 669.1,358.9 669.2,357.2 669.3,354.9 669.4,357.3 669.5,354.3 669.6,360.4 669.7,356.8 669.8,353.5 669.9,360.3 670.0,356.8 670.1,355.8 670.2,356.9 670.3,358.4 670.4,357.6 670.5,353.2 670.6,354.7 670.7,360.0 670.8,359.6 670.9,352.1 671.0,355.9 671.1,358.1 671.2,358.0 671.3,356.8 671.4,352.3 671.5,358.8 671.6,356.6 671.7,353.4 671.8,358.5 671.9,353.7 672.0,358.9 672.1,361.0 672.2,356.8 672.3,358.3 672.4,354.9 672.5,358.3 672.6,353.2 672.7,358.4 672.8,359.2 672.9,356.7 673.0,360.0 673.1,352.6 673.2,354.0 673.3,353.4 673.4,354.1 673.5,352.7 673.6,357.1 673.7,358.6 673.8,357.5 673.9,359.8 674.0,356.4 674.1,356.5 674.2,352.3 674.3,356.6 674.4,359.0 674.5,356.1 674.6,357.8 674.7,356.4 674.8,354.5 674.9,355.4 675.0,359.7 675.1,356.7 675.2,353.5 675.3,357.3 675.4,360.8 675.5,357.9 675.6,356.4 675.7,358.7 675.8,358.5 675.9,360.2 676.0,357.4 676.1,354.0 676.2,355.0 676.3,354.8 676.4,359.6 676.5,353.9 676.6,355.2 676.7,358.0 676.8,354.5 676.9,354.2 677.0,357.7 677.1,358.5 677.2,356.9 677.3,358.7 677.4,355.9 677.5,359.7 677.6,359.0 677.7,354.3 677.8,357.7 677.9,354.3 678.0,356.2 678.1,353.7 678.2,354.3 678.3,353.3 678.4,359.2 678.5,359.3 678.6,355.8 678.7,358.2 678.8,354.0 678.9,358.6 679.0,355.8 679.1,354.4 679.2,355.4 679.3,355.2 679.4,354.2 679.5,356.9 679.6,358.1 679.7,353.7 679.8,354.9 679.9,359.0 680.0,354.7 680.1,354.5 680.2,358.4 680.3,355.3 680.4,356.9 680.5,358.7 680.6,358.4 680.7,359.7 680.8,357.0 680.9,355.9 681.0,355.1 681.1,355.1 681.2,355.0 681.3,353.7 681.4,356.7 681.5,354.7 681.6,358.9 681.7,356.1 681.8,354.5 681.9,353.3 682.0,353.5 682.1,356.4 682.2,354.8 682.3,357.1 682.4,353.8 682.5,357.9 682.6,354.5 682.7,355.7 682.8,356.0 682.9,356.8 683.0,358.3 683.1,354.6 683.2,353.3 683.3,353.6 683.4,357.7 683.5,358.9 683.6,355.3 683.7,357.8 683.8,354.9 683.9,354.8 684.0,358.2 684.1,353.7 684.2,352.0 684.3,356.7 684.4,352.7 684.5,351.8 684.6,355.4 684.7,360.2 684.8,359.2 684.9,354.7 685.0,358.5 685.1,353.8 685.2,358.0 685.3,360.0 685.4,355.8 685.5,357.2 685.6,355.4 685.7,358.2 685.8,358.6 685.9,358.0 686.0,354.3 686.1,354.6 686.2,356.7 686.3,356.7 686.4,356.3 686.5,354.3 686.6,355.4 686.7,357.1 686.8,358.0 686.9,357.7 687.0,359.8 687.1,357.4 687.2,355.6 687.3,359.5 687.4,362.2 687.5,352.6 687.6,356.6 687.7,358.6 687.8,353.2 687.9,354.7 688.0,357.0 688.1,356.6 688.2,354.6 688.3,355.6 688.4,354.5 688.5,353.3 688.6,358.4 688.7,354.5 688.8,357.8 688.9,354.2 689.0,359.0 689.1,356.0 689.2,353.1 689.3,357.2 689.4,357.8 689.5,356.9 689.6,354.9 689.7,354.8 689.8,352.3 689.9,357.5 690.0,353.7 690.1,353.4 690.2,356.9 690.3,354.7 690.4,355.0 690.5,356.4 690.6,356.0 690.7,361.4 690.8,353.3 690.9,353.6 691.0,359.7 691.1,358.6 691.2,358.1 691.3,354.0 691.4,354.5 691.5,355.1 691.6,353.6 691.7,354.4 691.8,355.1 691.9,355.7 692.0,356.8 692.1,355.5 692.2,356.8 692.3,357.6 692.4,357.3 692.5,356.4 692.6,355.5 692.7,353.3 692.8,357.1 692.9,356.0 693.0,356.7 693.1,357.9 693.2,354.7 693.3,353.0 693.4,353.9 693.5,355.2 693.6,354.7 693.7,356.5 693.8,360.5 693.9,355.6 694.0,353.5 694.1,357.3 694.2,353.7 694.3,353.9 694.4,357.4 694.5,356.5 694.6,359.0 694.7,352.0 694.8,355.2 694.9,354.4 695.0,359.2 695.1,357.8 695.2,357.8 695.3,359.1 695.4,356.9 695.5,355.2 695.6,357.4 695.7,353.9 695.8,359.0 695.9,355.7 696.0,354.5 696.1,357.9 696.2,354.0 696.3,356.8 696.4,351.9 696.5,359.2 696.6,355.4 696.7,360.5 696.8,358.6 696.9,356.2 697.0,356.9 697.1,356.0 697.2,358.2 697.3,354.7 697.4,354.5 697.5,355.2 697.6,357.2 697.7,355.5 697.8,359.4 697.9,357.9 698.0,353.8 698.1,357.0 698.2,355.0 698.3,355.9 698.4,356.9 698.5,358.3 698.6,356.0 698.7,353.0 698.8,358.3 698.9,354.1 699.0,357.4 699.1,354.6 699.2,354.5 699.3,355.6 699.4,355.3 699.5,356.4 699.6,360.6 699.7,353.8 699.8,353.1 699.9,361.3 700.0,354.9 700.1,353.3 700.2,355.9 700.3,358.5 700.4,355.0 700.5,361.5 700.6,355.9 700.7,354.5 700.8,357.8 700.9,353.1 701.0,356.9 701.1,352.8 701.2,356.1 701.3,355.4 701.4,353.9 701.5,354.2 701.6,357.2 701.7,352.7 701.8,357.1 701.9,358.8 702.0,353.2 702.1,358.2 702.2,357.9 702.3,357.4 702.4,354.5 702.5,356.0 702.6,357.5 702.7,358.2 702.8,353.1 702.9,359.6 703.0,356.4 703.1,355.4 703.2,357.9 703.3,355.1 703.4,357.8 703.5,352.4 703.6,358.0 703.7,353.2 703.8,357.2 703.9,357.0 704.0,355.6 704.1,356.0 704.2,357.2 704.3,354.1 704.4,357.5 704.5,356.4" stroke-width="1.3"/>
<path d="M143.2,347.9L143.7,331.5L144.3,332.1L144.0,473.2L144.4,473.2L144.5,358.9L145.3,353.9L145.9,350.9L146.9,350.1M155.0,353.4L155.5,343.5L156.1,344.1L155.8,456.7L156.2,456.7L156.3,364.4L157.1,359.4L157.7,356.4L158.7,351.4M173.4,353.0L173.9,343.9L174.5,344.5L174.2,453.5L174.7,453.5L174.7,364.0L175.5,359.0L176.1,356.0L177.1,351.1M190.9,353.0L191.4,340.4L192.0,341.0L191.7,464.4L192.2,464.4L192.2,364.0L193.0,359.0L193.6,356.0L194.6,351.1M211.3,353.0L211.8,342.2L212.4,342.8L212.1,461.9L212.5,461.9L212.6,364.0L213.4,359.0L214.0,356.0L215.0,351.1M230.1,353.0L230.6,343.1L231.2,343.7L230.9,461.2L231.3,461.2L231.4,364.0L232.2,359.0L232.8,356.0L233.8,351.1M247.0,353.0L247.5,343.1L248.1,343.7L247.8,453.8L248.2,453.8L248.3,364.0L249.1,359.0L249.7,356.0L250.7,351.0M268.0,353.0L268.5,342.5L269.1,343.1L268.8,448.7L269.2,448.7L269.3,364.0L270.1,359.0L270.7,356.0L271.7,351.1M287.6,353.0L288.1,343.9L288.7,344.5L288.4,451.2L288.9,451.2L288.9,364.0L289.7,359.0L290.3,356.0L291.3,351.1M304.5,353.0L305.0,342.9L305.6,343.5L305.3,461.9L305.8,461.9L305.8,364.0L306.6,359.0L307.2,356.0L308.2,351.0M325.1,353.0L325.6,343.5L326.2,344.1L325.9,460.8L326.4,460.8L326.4,364.0L327.2,359.0L327.8,356.0L328.8,351.1M344.0,353.0L344.5,343.5L345.1,344.1L344.8,461.6L345.2,461.6L345.3,364.0L346.1,359.0L346.7,356.0L347.7,351.1M361.0,353.0L361.5,345.0L362.1,345.6L361.8,454.1L362.2,454.1L362.3,364.0L363.1,359.0L363.7,356.0L364.7,351.0M381.9,353.0L382.4,343.5L383.0,344.1L382.7,450.9L383.2,450.9L383.2,364.0L384.0,359.0L384.6,356.0L385.6,351.1M401.5,353.0L402.0,344.1L402.6,344.7L402.3,452.6L402.8,452.6L402.8,364.0L403.6,359.0L404.2,356.0L405.2,351.1M418.7,353.0L419.2,340.4L419.8,341.0L419.5,464.7L420.0,464.7L420.0,364.0L420.8,359.0L421.4,356.0L422.4,351.1M439.0,353.0L439.5,342.9L440.1,343.5L439.8,462.9L440.2,462.9L440.3,364.0L441.1,359.0L441.7,356.0L442.7,351.1M457.8,353.0L458.3,342.9L458.9,343.5L458.6,461.6L459.1,461.6L459.1,364.0L459.9,359.0L460.5,356.0L461.5,351.1M475.1,353.0L475.6,343.9L476.2,344.5L475.9,453.5L476.4,453.5L476.4,364.0L477.2,359.0L477.8,356.0L478.8,351.0M496.1,353.0L496.6,344.1L497.2,344.7L496.9,449.9L497.4,449.9L497.4,364.0L498.2,359.0L498.8,356.0L499.8,351.1M515.5,353.0L516.0,342.9L516.6,343.5L516.3,453.2L516.8,453.2L516.8,364.0L517.6,359.0L518.2,356.0L519.2,351.1M532.8,353.0L533.3,343.1L533.9,343.7L533.6,461.6L534.1,461.6L534.1,364.0L534.9,359.0L535.5,356.0L536.5,351.1M553.0,353.0L553.5,341.0L554.1,341.6L553.8,461.9L554.2,461.9L554.3,364.0L555.1,359.0L555.7,356.0L556.7,351.1M571.9,353.0L572.4,341.5L573.0,342.1L572.7,463.1L573.1,463.1L573.2,364.0L574.0,359.0L574.6,356.0L575.6,351.1M589.1,353.0L589.6,345.0L590.2,345.6L589.9,453.6L590.4,453.6L590.4,364.0L591.2,359.0L591.8,356.0L592.8,351.0M610.0,353.0L610.5,344.0L611.1,344.6L610.8,449.6L611.2,449.6L611.3,364.0L612.1,359.0L612.7,356.0L613.7,351.1M629.6,352.9L630.1,344.0L630.7,344.6L630.4,450.3L630.9,450.3L630.9,363.9L631.7,358.9L632.3,355.9L633.3,351.6" stroke-width="1.4"/>
<path d="M143.6,345.9L146.3,347.9L145.8,351.9L145.1,355.9L144.5,359.9L143.8,359.9ZM155.4,351.4L158.1,353.4L157.6,357.4L156.9,361.4L156.3,365.4L155.6,365.4ZM173.8,351.0L176.5,353.0L176.0,357.0L175.3,361.0L174.7,365.0L174.0,365.0ZM191.3,351.0L194.0,353.0L193.5,357.0L192.8,361.0L192.2,365.0L191.5,365.0ZM211.7,351.0L214.4,353.0L213.9,357.0L213.2,361.0L212.6,365.0L211.9,365.0ZM230.5,351.0L233.2,353.0L232.7,357.0L232.0,361.0L231.4,365.0L230.7,365.0ZM247.4,351.0L250.1,353.0L249.6,357.0L248.9,361.0L248.3,365.0L247.6,365.0ZM268.4,351.0L271.1,353.0L270.6,357.0L269.9,361.0L269.3,365.0L268.6,365.0ZM288.0,351.0L290.7,353.0L290.2,357.0L289.5,361.0L288.9,365.0L288.2,365.0ZM304.9,351.0L307.6,353.0L307.1,357.0L306.4,361.0L305.8,365.0L305.1,365.0ZM325.5,351.0L328.2,353.0L327.7,357.0L327.0,361.0L326.4,365.0L325.7,365.0ZM344.4,351.0L347.1,353.0L346.6,357.0L345.9,361.0L345.3,365.0L344.6,365.0ZM361.4,351.0L364.1,353.0L363.6,357.0L362.9,361.0L362.3,365.0L361.6,365.0ZM382.3,351.0L385.0,353.0L384.5,357.0L383.8,361.0L383.2,365.0L382.5,365.0ZM401.9,351.0L404.6,353.0L404.1,357.0L403.4,361.0L402.8,365.0L402.1,365.0ZM419.1,351.0L421.8,353.0L421.3,357.0L420.6,361.0L420.0,365.0L419.3,365.0ZM439.4,351.0L442.1,353.0L441.6,357.0L440.9,361.0L440.3,365.0L439.6,365.0ZM458.2,351.0L460.9,353.0L460.4,357.0L459.7,361.0L459.1,365.0L458.4,365.0ZM475.5,351.0L478.2,353.0L477.7,357.0L477.0,361.0L476.4,365.0L475.7,365.0ZM496.5,351.0L499.2,353.0L498.7,357.0L498.0,361.0L497.4,365.0L496.7,365.0ZM515.9,351.0L518.6,353.0L518.1,357.0L517.4,361.0L516.8,365.0L516.1,365.0ZM533.2,351.0L535.9,353.0L535.4,357.0L534.7,361.0L534.1,365.0L533.4,365.0ZM553.4,351.0L556.1,353.0L555.6,357.0L554.9,361.0L554.3,365.0L553.6,365.0ZM572.3,351.0L575.0,353.0L574.5,357.0L573.8,361.0L573.2,365.0L572.5,365.0ZM589.5,351.0L592.2,353.0L591.7,357.0L591.0,361.0L590.4,365.0L589.7,365.0ZM610.4,351.0L613.1,353.0L612.6,357.0L611.9,361.0L611.3,365.0L610.6,365.0ZM630.0,350.9L632.7,352.9L632.2,356.9L631.5,360.9L630.9,364.9L630.2,364.9Z" fill="#ff0000" stroke-width="0.6"/>
</g>
<g fill="#262626" fill-opacity="0.72">
<rect x="101" y="43" width="1" height="470"/>
<rect x="101" y="512" width="604" height="1"/>
<rect x="101" y="47" width="7" height="1"/>
<rect x="101" y="150" width="7" height="1"/>
<rect x="101" y="252" width="7" height="1"/>
<rect x="101" y="355" width="7" height="1"/>
<rect x="101" y="458" width="7" height="1"/>
<rect x="134" y="506" width="1" height="7"/>
<rect x="637" y="506" width="1" height="7"/>
</g>
<text x="115.00" y="25.50" font-size="24.70" font-weight="bold" stroke="#000" stroke-width="0.8" stroke-linejoin="round" fill="#000" textLength="76.88" lengthAdjust="spacingAndGlyphs" xml:space="preserve">Kir2.1</text>
<text x="210.40" y="25.50" font-size="24.70" font-weight="bold" stroke="#000" stroke-width="0.8" stroke-linejoin="round" fill="#000" textLength="43.91" lengthAdjust="spacingAndGlyphs" xml:space="preserve">Rat</text>
<text x="272.60" y="25.50" font-size="24.70" font-weight="bold" stroke="#000" stroke-width="0.8" stroke-linejoin="round" fill="#000" textLength="55.50" lengthAdjust="spacingAndGlyphs" xml:space="preserve">CHO</text>
<text x="342.20" y="25.50" font-size="24.70" font-weight="bold" stroke="#000" stroke-width="0.8" stroke-linejoin="round" fill="#000" textLength="30.59" lengthAdjust="spacingAndGlyphs" xml:space="preserve">FT</text>
<text x="48.00" y="54.95" font-size="25.40" fill="#262626" textLength="37.74" lengthAdjust="spacingAndGlyphs" xml:space="preserve">0.9</text>
<text x="48.00" y="157.95" font-size="25.40" fill="#262626" textLength="38.12" lengthAdjust="spacingAndGlyphs" xml:space="preserve">0.6</text>
<text x="48.00" y="260.95" font-size="25.40" fill="#262626" textLength="38.20" lengthAdjust="spacingAndGlyphs" xml:space="preserve">0.3</text>
<text x="55.40" y="362.95" font-size="25.40" fill="#262626" textLength="15.35" lengthAdjust="spacingAndGlyphs" xml:space="preserve">0</text>
<text x="46.80" y="465.95" font-size="25.40" fill="#262626" textLength="45.76" lengthAdjust="spacingAndGlyphs" xml:space="preserve">-0.3</text>
<text x="115.40" y="541.95" font-size="25.40" fill="#262626" textLength="36.55" lengthAdjust="spacingAndGlyphs" xml:space="preserve">0.1</text>
<text x="617.80" y="541.95" font-size="25.40" fill="#262626" textLength="36.92" lengthAdjust="spacingAndGlyphs" xml:space="preserve">1.6</text>
<text x="376.60" y="574.20" font-size="25.00" fill="#262626" textLength="52.80" lengthAdjust="spacingAndGlyphs" xml:space="preserve">t [s]</text>
<text transform="translate(35.60,313.60) rotate(-90)" font-size="26.00" fill="#262626" textLength="71.74" lengthAdjust="spacingAndGlyphs" xml:space="preserve">I [nA]</text>
<text x="614.00" y="47.00" font-size="20.30" fill="#000" textLength="23.65" lengthAdjust="spacingAndGlyphs" xml:space="preserve">35</text>
<text x="645.60" y="47.00" font-size="20.30" fill="#000" textLength="22.09" lengthAdjust="spacingAndGlyphs" xml:space="preserve">°C</text>
<text x="680.40" y="47.00" font-size="20.30" fill="#000" textLength="23.57" lengthAdjust="spacingAndGlyphs" xml:space="preserve">AP</text>
<text transform="translate(720.90,168.00) rotate(-90)" font-size="14.40" fill="#000" textLength="8.46" lengthAdjust="spacingAndGlyphs" xml:space="preserve">2</text>
<text transform="translate(720.90,196.00) rotate(-90)" font-size="14.40" fill="#000" textLength="24.26" lengthAdjust="spacingAndGlyphs" xml:space="preserve">rep</text>
<text transform="translate(720.90,245.00) rotate(-90)" font-size="14.40" fill="#000" textLength="45.05" lengthAdjust="spacingAndGlyphs" xml:space="preserve">22940</text>
<text transform="translate(720.90,264.00) rotate(-90)" font-size="14.40" fill="#000" textLength="15.33" lengthAdjust="spacingAndGlyphs" xml:space="preserve">ID</text>
<text transform="translate(720.90,364.00) rotate(-90)" font-size="14.40" fill="#000" textLength="94.01" lengthAdjust="spacingAndGlyphs" xml:space="preserve">Channelpedia</text>
<text transform="translate(720.90,396.00) rotate(-90)" font-size="14.40" fill="#000" textLength="28.15" lengthAdjust="spacingAndGlyphs" xml:space="preserve">BBP</text>
<text x="329.50" y="27.70" font-size="24.70" font-weight="bold" stroke="#000" stroke-width="1.6" stroke-linejoin="round" fill="#000" textLength="10.76" lengthAdjust="spacingAndGlyphs" xml:space="preserve">_</text>
</svg>
</body></html>
